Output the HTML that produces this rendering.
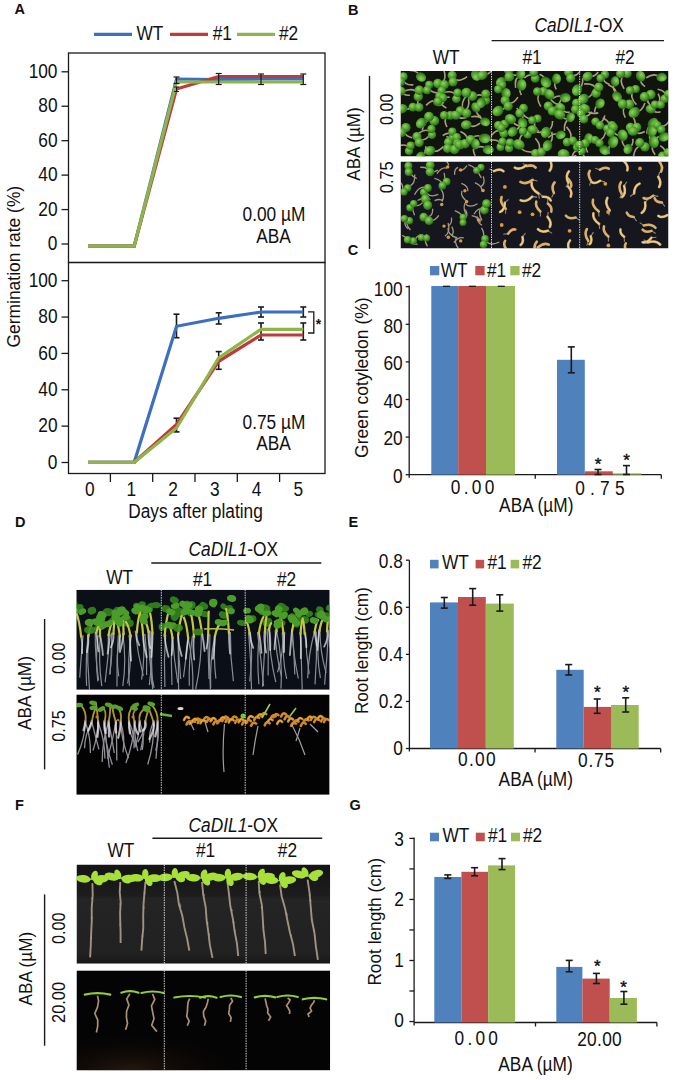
<!DOCTYPE html>
<html><head><meta charset="utf-8"><style>
html,body{margin:0;padding:0;background:#fff;}
body{width:675px;height:1080px;overflow:hidden;position:relative;}
svg{position:absolute;left:0;top:0;}
text{font-family:"Liberation Sans",sans-serif;fill:#111;}
</style></head><body>
<svg width="675" height="1080" viewBox="0 0 675 1080">
<text x="14.60" y="14.30" font-size="14.5" text-anchor="start" font-weight="bold" >A</text>
<line x1="94.00" y1="34.30" x2="132.00" y2="34.30" stroke="#3d6fbf" stroke-width="3.2" />
<text x="0" y="0" transform="translate(136.50,39.80) scale(0.8929,1)" font-size="19.38" text-anchor="start" font-weight="normal" >WT</text>
<line x1="170.00" y1="34.30" x2="208.00" y2="34.30" stroke="#c0393b" stroke-width="3.2" />
<text x="0" y="0" transform="translate(212.70,39.80) scale(0.8929,1)" font-size="19.38" text-anchor="start" font-weight="normal" >#1</text>
<line x1="237.00" y1="34.30" x2="275.00" y2="34.30" stroke="#8db64a" stroke-width="3.2" />
<text x="0" y="0" transform="translate(278.90,39.80) scale(0.8929,1)" font-size="19.38" text-anchor="start" font-weight="normal" >#2</text>
<rect x="68.5" y="53" width="256.5" height="209.5" fill="none" stroke="#1a1a1a" stroke-width="1.3"/>
<rect x="68.5" y="262.5" width="256.5" height="211" fill="none" stroke="#1a1a1a" stroke-width="1.3"/>
<line x1="61.50" y1="71.80" x2="68.50" y2="71.80" stroke="#1a1a1a" stroke-width="1.3" />
<text x="0" y="0" transform="translate(57.50,77.90) scale(0.8929,1)" font-size="19.38" text-anchor="end" font-weight="normal" >100</text>
<line x1="61.50" y1="106.24" x2="68.50" y2="106.24" stroke="#1a1a1a" stroke-width="1.3" />
<text x="0" y="0" transform="translate(57.50,112.34) scale(0.8929,1)" font-size="19.38" text-anchor="end" font-weight="normal" >80</text>
<line x1="61.50" y1="140.68" x2="68.50" y2="140.68" stroke="#1a1a1a" stroke-width="1.3" />
<text x="0" y="0" transform="translate(57.50,146.78) scale(0.8929,1)" font-size="19.38" text-anchor="end" font-weight="normal" >60</text>
<line x1="61.50" y1="175.12" x2="68.50" y2="175.12" stroke="#1a1a1a" stroke-width="1.3" />
<text x="0" y="0" transform="translate(57.50,181.22) scale(0.8929,1)" font-size="19.38" text-anchor="end" font-weight="normal" >40</text>
<line x1="61.50" y1="209.56" x2="68.50" y2="209.56" stroke="#1a1a1a" stroke-width="1.3" />
<text x="0" y="0" transform="translate(57.50,215.66) scale(0.8929,1)" font-size="19.38" text-anchor="end" font-weight="normal" >20</text>
<line x1="61.50" y1="244.00" x2="68.50" y2="244.00" stroke="#1a1a1a" stroke-width="1.3" />
<text x="0" y="0" transform="translate(57.50,250.10) scale(0.8929,1)" font-size="19.38" text-anchor="end" font-weight="normal" >0</text>
<line x1="61.50" y1="280.70" x2="68.50" y2="280.70" stroke="#1a1a1a" stroke-width="1.3" />
<text x="0" y="0" transform="translate(57.50,286.80) scale(0.8929,1)" font-size="19.38" text-anchor="end" font-weight="normal" >100</text>
<line x1="61.50" y1="317.06" x2="68.50" y2="317.06" stroke="#1a1a1a" stroke-width="1.3" />
<text x="0" y="0" transform="translate(57.50,323.16) scale(0.8929,1)" font-size="19.38" text-anchor="end" font-weight="normal" >80</text>
<line x1="61.50" y1="353.42" x2="68.50" y2="353.42" stroke="#1a1a1a" stroke-width="1.3" />
<text x="0" y="0" transform="translate(57.50,359.52) scale(0.8929,1)" font-size="19.38" text-anchor="end" font-weight="normal" >60</text>
<line x1="61.50" y1="389.78" x2="68.50" y2="389.78" stroke="#1a1a1a" stroke-width="1.3" />
<text x="0" y="0" transform="translate(57.50,395.88) scale(0.8929,1)" font-size="19.38" text-anchor="end" font-weight="normal" >40</text>
<line x1="61.50" y1="426.14" x2="68.50" y2="426.14" stroke="#1a1a1a" stroke-width="1.3" />
<text x="0" y="0" transform="translate(57.50,432.24) scale(0.8929,1)" font-size="19.38" text-anchor="end" font-weight="normal" >20</text>
<line x1="61.50" y1="462.50" x2="68.50" y2="462.50" stroke="#1a1a1a" stroke-width="1.3" />
<text x="0" y="0" transform="translate(57.50,468.60) scale(0.8929,1)" font-size="19.38" text-anchor="end" font-weight="normal" >0</text>
<line x1="110.40" y1="473.50" x2="110.40" y2="482.00" stroke="#1a1a1a" stroke-width="1.3" />
<line x1="152.70" y1="473.50" x2="152.70" y2="482.00" stroke="#1a1a1a" stroke-width="1.3" />
<line x1="195.00" y1="473.50" x2="195.00" y2="482.00" stroke="#1a1a1a" stroke-width="1.3" />
<line x1="237.30" y1="473.50" x2="237.30" y2="482.00" stroke="#1a1a1a" stroke-width="1.3" />
<line x1="279.60" y1="473.50" x2="279.60" y2="482.00" stroke="#1a1a1a" stroke-width="1.3" />
<text x="0" y="0" transform="translate(89.70,496.30) scale(0.8929,1)" font-size="19.38" text-anchor="middle" font-weight="normal" >0</text>
<text x="0" y="0" transform="translate(131.40,496.30) scale(0.8929,1)" font-size="19.38" text-anchor="middle" font-weight="normal" >1</text>
<text x="0" y="0" transform="translate(173.10,496.30) scale(0.8929,1)" font-size="19.38" text-anchor="middle" font-weight="normal" >2</text>
<text x="0" y="0" transform="translate(214.80,496.30) scale(0.8929,1)" font-size="19.38" text-anchor="middle" font-weight="normal" >3</text>
<text x="0" y="0" transform="translate(256.50,496.30) scale(0.8929,1)" font-size="19.38" text-anchor="middle" font-weight="normal" >4</text>
<text x="0" y="0" transform="translate(298.20,496.30) scale(0.8929,1)" font-size="19.38" text-anchor="middle" font-weight="normal" >5</text>
<text x="0" y="0" transform="translate(195.50,517.70) scale(0.8929,1)" font-size="19.38" text-anchor="middle" font-weight="normal" >Days after plating</text>
<text x="0" y="0" font-size="17.3" transform="translate(19.90,347.50) rotate(-90) scale(1.0077,1.0650)">Germination rate (%)</text>
<text x="0" y="0" transform="translate(274.00,221.40) scale(0.8929,1)" font-size="19.38" text-anchor="middle" font-weight="normal" >0.00 µM</text>
<text x="0" y="0" transform="translate(273.50,243.40) scale(0.8929,1)" font-size="19.38" text-anchor="middle" font-weight="normal" >ABA</text>
<text x="0" y="0" transform="translate(274.00,428.80) scale(0.8929,1)" font-size="19.38" text-anchor="middle" font-weight="normal" >0.75 µM</text>
<text x="0" y="0" transform="translate(273.50,450.20) scale(0.8929,1)" font-size="19.38" text-anchor="middle" font-weight="normal" >ABA</text>
<polyline points="88.0,246.2 134.2,246.2 176.5,79.0 218.7,79.5 261.0,79.0 303.3,79.0" fill="none" stroke="#3d6fbf" stroke-width="3.2" stroke-linejoin="miter"/>
<polyline points="88.0,246.2 134.2,246.2 176.5,89.0 218.7,76.5 261.0,76.5 303.3,76.5" fill="none" stroke="#c0393b" stroke-width="3.2" stroke-linejoin="miter"/>
<polyline points="88.0,246.2 134.2,246.2 176.5,82.0 218.7,82.0 261.0,82.0 303.3,82.0" fill="none" stroke="#8db64a" stroke-width="3.2" stroke-linejoin="miter"/>
<line x1="176.50" y1="77.00" x2="176.50" y2="83.50" stroke="#1a1a1a" stroke-width="1.2" />
<line x1="173.50" y1="77.00" x2="179.50" y2="77.00" stroke="#1a1a1a" stroke-width="1.2" />
<line x1="173.50" y1="83.50" x2="179.50" y2="83.50" stroke="#1a1a1a" stroke-width="1.2" />
<line x1="176.50" y1="87.00" x2="176.50" y2="91.50" stroke="#1a1a1a" stroke-width="1.0" />
<line x1="174.00" y1="87.00" x2="179.00" y2="87.00" stroke="#1a1a1a" stroke-width="1.0" />
<line x1="174.00" y1="91.50" x2="179.00" y2="91.50" stroke="#1a1a1a" stroke-width="1.0" />
<line x1="218.70" y1="73.50" x2="218.70" y2="84.50" stroke="#1a1a1a" stroke-width="1.2" />
<line x1="215.70" y1="73.50" x2="221.70" y2="73.50" stroke="#1a1a1a" stroke-width="1.2" />
<line x1="215.70" y1="84.50" x2="221.70" y2="84.50" stroke="#1a1a1a" stroke-width="1.2" />
<line x1="261.00" y1="74.00" x2="261.00" y2="84.50" stroke="#1a1a1a" stroke-width="1.2" />
<line x1="258.00" y1="74.00" x2="264.00" y2="74.00" stroke="#1a1a1a" stroke-width="1.2" />
<line x1="258.00" y1="84.50" x2="264.00" y2="84.50" stroke="#1a1a1a" stroke-width="1.2" />
<line x1="303.30" y1="74.00" x2="303.30" y2="84.50" stroke="#1a1a1a" stroke-width="1.2" />
<line x1="300.30" y1="74.00" x2="306.30" y2="74.00" stroke="#1a1a1a" stroke-width="1.2" />
<line x1="300.30" y1="84.50" x2="306.30" y2="84.50" stroke="#1a1a1a" stroke-width="1.2" />
<line x1="176.50" y1="314.20" x2="176.50" y2="337.70" stroke="#1a1a1a" stroke-width="1.6" />
<line x1="173.50" y1="314.20" x2="179.50" y2="314.20" stroke="#1a1a1a" stroke-width="1.6" />
<line x1="173.50" y1="337.70" x2="179.50" y2="337.70" stroke="#1a1a1a" stroke-width="1.6" />
<line x1="218.70" y1="312.80" x2="218.70" y2="324.00" stroke="#1a1a1a" stroke-width="1.6" />
<line x1="215.70" y1="312.80" x2="221.70" y2="312.80" stroke="#1a1a1a" stroke-width="1.6" />
<line x1="215.70" y1="324.00" x2="221.70" y2="324.00" stroke="#1a1a1a" stroke-width="1.6" />
<line x1="261.00" y1="307.00" x2="261.00" y2="317.00" stroke="#1a1a1a" stroke-width="1.6" />
<line x1="258.00" y1="307.00" x2="264.00" y2="307.00" stroke="#1a1a1a" stroke-width="1.6" />
<line x1="258.00" y1="317.00" x2="264.00" y2="317.00" stroke="#1a1a1a" stroke-width="1.6" />
<line x1="303.30" y1="307.00" x2="303.30" y2="317.00" stroke="#1a1a1a" stroke-width="1.6" />
<line x1="300.30" y1="307.00" x2="306.30" y2="307.00" stroke="#1a1a1a" stroke-width="1.6" />
<line x1="300.30" y1="317.00" x2="306.30" y2="317.00" stroke="#1a1a1a" stroke-width="1.6" />
<line x1="176.50" y1="418.20" x2="176.50" y2="431.90" stroke="#1a1a1a" stroke-width="1.6" />
<line x1="173.50" y1="418.20" x2="179.50" y2="418.20" stroke="#1a1a1a" stroke-width="1.6" />
<line x1="173.50" y1="431.90" x2="179.50" y2="431.90" stroke="#1a1a1a" stroke-width="1.6" />
<line x1="218.70" y1="351.60" x2="218.70" y2="369.30" stroke="#1a1a1a" stroke-width="1.6" />
<line x1="215.70" y1="351.60" x2="221.70" y2="351.60" stroke="#1a1a1a" stroke-width="1.6" />
<line x1="215.70" y1="369.30" x2="221.70" y2="369.30" stroke="#1a1a1a" stroke-width="1.6" />
<line x1="261.00" y1="323.00" x2="261.00" y2="340.00" stroke="#1a1a1a" stroke-width="1.6" />
<line x1="258.00" y1="323.00" x2="264.00" y2="323.00" stroke="#1a1a1a" stroke-width="1.6" />
<line x1="258.00" y1="340.00" x2="264.00" y2="340.00" stroke="#1a1a1a" stroke-width="1.6" />
<line x1="303.30" y1="323.00" x2="303.30" y2="340.00" stroke="#1a1a1a" stroke-width="1.6" />
<line x1="300.30" y1="323.00" x2="306.30" y2="323.00" stroke="#1a1a1a" stroke-width="1.6" />
<line x1="300.30" y1="340.00" x2="306.30" y2="340.00" stroke="#1a1a1a" stroke-width="1.6" />
<polyline points="88.0,462.3 134.2,462.3 176.5,326.3 218.7,318.3 261.0,312.0 303.3,312.0" fill="none" stroke="#3d6fbf" stroke-width="3.2" stroke-linejoin="miter"/>
<polyline points="88.0,462.3 134.2,462.3 176.5,424.4 218.7,361.3 261.0,335.0 303.3,335.0" fill="none" stroke="#c0393b" stroke-width="3.2" stroke-linejoin="miter"/>
<polyline points="88.0,462.3 134.2,462.3 176.5,428.0 218.7,357.8 261.0,329.3 303.3,329.3" fill="none" stroke="#8db64a" stroke-width="3.2" stroke-linejoin="miter"/>
<polyline points="308,311.8 313.8,311.8 313.8,333 308,333" fill="none" stroke="#1a1a1a" stroke-width="1.3"/>
<text x="318.60" y="328.50" font-size="14" text-anchor="middle" font-weight="bold" >*</text>
<text x="347.80" y="255.30" font-size="14.5" text-anchor="start" font-weight="bold" >C</text>
<line x1="409.20" y1="285.60" x2="409.20" y2="477.70" stroke="#1a1a1a" stroke-width="1.3" />
<line x1="409.20" y1="474.70" x2="661.30" y2="474.70" stroke="#1a1a1a" stroke-width="1.3" />
<line x1="405.70" y1="286.70" x2="409.20" y2="286.70" stroke="#1a1a1a" stroke-width="1.3" />
<text x="0" y="0" transform="translate(402.70,295.50) scale(0.8929,1)" font-size="19.38" text-anchor="end" font-weight="normal" >100</text>
<line x1="405.70" y1="324.30" x2="409.20" y2="324.30" stroke="#1a1a1a" stroke-width="1.3" />
<text x="0" y="0" transform="translate(402.70,332.90) scale(0.8929,1)" font-size="19.38" text-anchor="end" font-weight="normal" >80</text>
<line x1="405.70" y1="361.90" x2="409.20" y2="361.90" stroke="#1a1a1a" stroke-width="1.3" />
<text x="0" y="0" transform="translate(402.70,370.30) scale(0.8929,1)" font-size="19.38" text-anchor="end" font-weight="normal" >60</text>
<line x1="405.70" y1="399.50" x2="409.20" y2="399.50" stroke="#1a1a1a" stroke-width="1.3" />
<text x="0" y="0" transform="translate(402.70,407.70) scale(0.8929,1)" font-size="19.38" text-anchor="end" font-weight="normal" >40</text>
<line x1="405.70" y1="437.10" x2="409.20" y2="437.10" stroke="#1a1a1a" stroke-width="1.3" />
<text x="0" y="0" transform="translate(402.70,445.10) scale(0.8929,1)" font-size="19.38" text-anchor="end" font-weight="normal" >20</text>
<line x1="405.70" y1="474.70" x2="409.20" y2="474.70" stroke="#1a1a1a" stroke-width="1.3" />
<text x="0" y="0" transform="translate(402.70,482.50) scale(0.8929,1)" font-size="19.38" text-anchor="end" font-weight="normal" >0</text>
<line x1="535.25" y1="474.70" x2="535.25" y2="478.70" stroke="#1a1a1a" stroke-width="1.3" />
<line x1="661.30" y1="474.70" x2="661.30" y2="478.70" stroke="#1a1a1a" stroke-width="1.3" />
<rect x="431.30" y="286.00" width="26.90" height="188.70" fill="#4F81BD" />
<rect x="458.20" y="286.00" width="27.80" height="188.70" fill="#C0504D" />
<rect x="486.00" y="286.00" width="29.00" height="188.70" fill="#9BBB59" />
<rect x="557.00" y="359.80" width="27.80" height="114.90" fill="#4F81BD" />
<rect x="584.80" y="471.30" width="28.00" height="3.40" fill="#C0504D" />
<rect x="612.80" y="473.30" width="28.50" height="1.40" fill="#9BBB59" />
<line x1="443.00" y1="286.30" x2="450.00" y2="286.30" stroke="#1a1a1a" stroke-width="1.3" />
<line x1="468.90" y1="286.30" x2="475.90" y2="286.30" stroke="#1a1a1a" stroke-width="1.3" />
<line x1="497.80" y1="286.30" x2="504.80" y2="286.30" stroke="#1a1a1a" stroke-width="1.3" />
<line x1="571.30" y1="346.90" x2="571.30" y2="372.80" stroke="#1a1a1a" stroke-width="1.6" />
<line x1="567.80" y1="346.90" x2="574.80" y2="346.90" stroke="#1a1a1a" stroke-width="1.6" />
<line x1="567.80" y1="372.80" x2="574.80" y2="372.80" stroke="#1a1a1a" stroke-width="1.6" />
<line x1="598.00" y1="469.50" x2="598.00" y2="474.50" stroke="#1a1a1a" stroke-width="1.6" />
<line x1="594.50" y1="469.50" x2="601.50" y2="469.50" stroke="#1a1a1a" stroke-width="1.6" />
<line x1="594.50" y1="474.50" x2="601.50" y2="474.50" stroke="#1a1a1a" stroke-width="1.6" />
<line x1="626.50" y1="465.60" x2="626.50" y2="474.50" stroke="#1a1a1a" stroke-width="1.6" />
<line x1="623.00" y1="465.60" x2="630.00" y2="465.60" stroke="#1a1a1a" stroke-width="1.6" />
<line x1="623.00" y1="474.50" x2="630.00" y2="474.50" stroke="#1a1a1a" stroke-width="1.6" />
<text x="598.00" y="469.50" font-size="17" text-anchor="middle" font-weight="normal" stroke="#111" stroke-width="0.4">*</text>
<text x="626.50" y="465.50" font-size="17" text-anchor="middle" font-weight="normal" stroke="#111" stroke-width="0.4">*</text>
<rect x="430.00" y="266.00" width="9.30" height="9.30" fill="#4F81BD" />
<text x="0" y="0" transform="translate(440.70,276.50) scale(0.8929,1)" font-size="19.38" text-anchor="start" font-weight="normal" >WT</text>
<rect x="475.30" y="266.00" width="9.30" height="9.30" fill="#C0504D" />
<text x="0" y="0" transform="translate(487.00,276.50) scale(0.8929,1)" font-size="19.38" text-anchor="start" font-weight="normal" >#1</text>
<rect x="510.30" y="266.00" width="9.30" height="9.30" fill="#9BBB59" />
<text x="0" y="0" transform="translate(522.00,276.50) scale(0.8929,1)" font-size="19.38" text-anchor="start" font-weight="normal" >#2</text>
<text x="0" y="0" transform="translate(474.20,493.80) scale(0.8929,1)" font-size="19.38" text-anchor="middle" font-weight="normal" letter-spacing="3.70">0.00</text>
<text x="0" y="0" transform="translate(602.50,495.00) scale(0.8929,1)" font-size="19.38" text-anchor="middle" font-weight="normal" letter-spacing="5.82">0.75</text>
<text x="0" y="0" transform="translate(536.30,512.40) scale(0.8929,1)" font-size="19.38" text-anchor="middle" font-weight="normal" >ABA (µM)</text>
<text x="0" y="0" font-size="17.3" transform="translate(367.80,458.00) rotate(-90) scale(1.0135,1.0650)">Green cotyledon (%)</text>
<text x="348.60" y="526.60" font-size="14.5" text-anchor="start" font-weight="bold" >E</text>
<line x1="409.40" y1="560.20" x2="409.40" y2="751.50" stroke="#1a1a1a" stroke-width="1.3" />
<line x1="409.40" y1="748.50" x2="660.70" y2="748.50" stroke="#1a1a1a" stroke-width="1.3" />
<line x1="405.90" y1="560.20" x2="409.40" y2="560.20" stroke="#1a1a1a" stroke-width="1.3" />
<text x="0" y="0" transform="translate(402.90,568.00) scale(0.8929,1)" font-size="19.38" text-anchor="end" font-weight="normal" >0.8</text>
<line x1="405.90" y1="607.28" x2="409.40" y2="607.28" stroke="#1a1a1a" stroke-width="1.3" />
<text x="0" y="0" transform="translate(402.90,614.67) scale(0.8929,1)" font-size="19.38" text-anchor="end" font-weight="normal" >0.6</text>
<line x1="405.90" y1="654.36" x2="409.40" y2="654.36" stroke="#1a1a1a" stroke-width="1.3" />
<text x="0" y="0" transform="translate(402.90,661.35) scale(0.8929,1)" font-size="19.38" text-anchor="end" font-weight="normal" >0.4</text>
<line x1="405.90" y1="701.44" x2="409.40" y2="701.44" stroke="#1a1a1a" stroke-width="1.3" />
<text x="0" y="0" transform="translate(402.90,708.02) scale(0.8929,1)" font-size="19.38" text-anchor="end" font-weight="normal" >0.2</text>
<line x1="405.90" y1="748.52" x2="409.40" y2="748.52" stroke="#1a1a1a" stroke-width="1.3" />
<text x="0" y="0" transform="translate(402.90,754.70) scale(0.8929,1)" font-size="19.38" text-anchor="end" font-weight="normal" >0</text>
<line x1="535.05" y1="748.50" x2="535.05" y2="752.50" stroke="#1a1a1a" stroke-width="1.3" />
<line x1="660.70" y1="748.50" x2="660.70" y2="752.50" stroke="#1a1a1a" stroke-width="1.3" />
<rect x="430.00" y="602.40" width="28.00" height="146.10" fill="#4F81BD" />
<rect x="458.00" y="597.00" width="27.80" height="151.50" fill="#C0504D" />
<rect x="485.80" y="603.60" width="28.00" height="144.90" fill="#9BBB59" />
<rect x="556.30" y="669.80" width="27.40" height="78.70" fill="#4F81BD" />
<rect x="583.70" y="706.90" width="27.30" height="41.60" fill="#C0504D" />
<rect x="611.00" y="705.00" width="27.70" height="43.50" fill="#9BBB59" />
<line x1="444.30" y1="597.50" x2="444.30" y2="608.10" stroke="#1a1a1a" stroke-width="1.6" />
<line x1="440.80" y1="597.50" x2="447.80" y2="597.50" stroke="#1a1a1a" stroke-width="1.6" />
<line x1="440.80" y1="608.10" x2="447.80" y2="608.10" stroke="#1a1a1a" stroke-width="1.6" />
<line x1="472.70" y1="588.60" x2="472.70" y2="605.20" stroke="#1a1a1a" stroke-width="1.6" />
<line x1="469.20" y1="588.60" x2="476.20" y2="588.60" stroke="#1a1a1a" stroke-width="1.6" />
<line x1="469.20" y1="605.20" x2="476.20" y2="605.20" stroke="#1a1a1a" stroke-width="1.6" />
<line x1="499.80" y1="594.80" x2="499.80" y2="611.10" stroke="#1a1a1a" stroke-width="1.6" />
<line x1="496.30" y1="594.80" x2="503.30" y2="594.80" stroke="#1a1a1a" stroke-width="1.6" />
<line x1="496.30" y1="611.10" x2="503.30" y2="611.10" stroke="#1a1a1a" stroke-width="1.6" />
<line x1="568.70" y1="664.60" x2="568.70" y2="675.00" stroke="#1a1a1a" stroke-width="1.6" />
<line x1="565.20" y1="664.60" x2="572.20" y2="664.60" stroke="#1a1a1a" stroke-width="1.6" />
<line x1="565.20" y1="675.00" x2="572.20" y2="675.00" stroke="#1a1a1a" stroke-width="1.6" />
<line x1="597.20" y1="699.00" x2="597.20" y2="713.30" stroke="#1a1a1a" stroke-width="1.6" />
<line x1="593.70" y1="699.00" x2="600.70" y2="699.00" stroke="#1a1a1a" stroke-width="1.6" />
<line x1="593.70" y1="713.30" x2="600.70" y2="713.30" stroke="#1a1a1a" stroke-width="1.6" />
<line x1="625.70" y1="697.80" x2="625.70" y2="712.00" stroke="#1a1a1a" stroke-width="1.6" />
<line x1="622.20" y1="697.80" x2="629.20" y2="697.80" stroke="#1a1a1a" stroke-width="1.6" />
<line x1="622.20" y1="712.00" x2="629.20" y2="712.00" stroke="#1a1a1a" stroke-width="1.6" />
<text x="597.20" y="697.70" font-size="17" text-anchor="middle" font-weight="normal" stroke="#111" stroke-width="0.4">*</text>
<text x="625.70" y="697.70" font-size="17" text-anchor="middle" font-weight="normal" stroke="#111" stroke-width="0.4">*</text>
<rect x="430.00" y="559.80" width="8.60" height="8.60" fill="#4F81BD" />
<text x="0" y="0" transform="translate(441.90,568.60) scale(0.8929,1)" font-size="19.38" text-anchor="start" font-weight="normal" >WT</text>
<rect x="475.60" y="559.80" width="8.60" height="8.60" fill="#C0504D" />
<text x="0" y="0" transform="translate(487.50,568.60) scale(0.8929,1)" font-size="19.38" text-anchor="start" font-weight="normal" >#1</text>
<rect x="510.60" y="559.80" width="8.60" height="8.60" fill="#9BBB59" />
<text x="0" y="0" transform="translate(522.50,568.60) scale(0.8929,1)" font-size="19.38" text-anchor="start" font-weight="normal" >#2</text>
<text x="0" y="0" transform="translate(477.50,766.00) scale(0.8929,1)" font-size="19.38" text-anchor="middle" font-weight="normal" letter-spacing="1.46">0.00</text>
<text x="0" y="0" transform="translate(596.50,767.30) scale(0.8929,1)" font-size="19.38" text-anchor="middle" font-weight="normal" letter-spacing="0.90">0.75</text>
<text x="0" y="0" transform="translate(535.80,785.50) scale(0.8929,1)" font-size="19.38" text-anchor="middle" font-weight="normal" >ABA (µM)</text>
<text x="0" y="0" font-size="17.3" transform="translate(368.10,714.10) rotate(-90) scale(0.9931,1.0650)">Root length (cm)</text>
<text x="349.60" y="810.10" font-size="14.5" text-anchor="start" font-weight="bold" >G</text>
<line x1="414.10" y1="837.40" x2="414.10" y2="1025.50" stroke="#1a1a1a" stroke-width="1.3" />
<line x1="414.10" y1="1022.50" x2="656.90" y2="1022.50" stroke="#1a1a1a" stroke-width="1.3" />
<line x1="409.40" y1="838.40" x2="414.10" y2="838.40" stroke="#1a1a1a" stroke-width="1.3" />
<text x="0" y="0" transform="translate(403.90,846.00) scale(0.8929,1)" font-size="19.38" text-anchor="end" font-weight="normal" >3</text>
<line x1="409.40" y1="899.45" x2="414.10" y2="899.45" stroke="#1a1a1a" stroke-width="1.3" />
<text x="0" y="0" transform="translate(403.90,906.40) scale(0.8929,1)" font-size="19.38" text-anchor="end" font-weight="normal" >2</text>
<line x1="409.40" y1="960.50" x2="414.10" y2="960.50" stroke="#1a1a1a" stroke-width="1.3" />
<text x="0" y="0" transform="translate(403.90,966.80) scale(0.8929,1)" font-size="19.38" text-anchor="end" font-weight="normal" >1</text>
<line x1="409.40" y1="1021.55" x2="414.10" y2="1021.55" stroke="#1a1a1a" stroke-width="1.3" />
<text x="0" y="0" transform="translate(403.90,1027.20) scale(0.8929,1)" font-size="19.38" text-anchor="end" font-weight="normal" >0</text>
<line x1="409.40" y1="868.92" x2="414.10" y2="868.92" stroke="#1a1a1a" stroke-width="1.3" />
<line x1="409.40" y1="929.96" x2="414.10" y2="929.96" stroke="#1a1a1a" stroke-width="1.3" />
<line x1="409.40" y1="991.00" x2="414.10" y2="991.00" stroke="#1a1a1a" stroke-width="1.3" />
<line x1="535.50" y1="1022.50" x2="535.50" y2="1026.50" stroke="#1a1a1a" stroke-width="1.3" />
<line x1="656.90" y1="1022.50" x2="656.90" y2="1026.50" stroke="#1a1a1a" stroke-width="1.3" />
<rect x="434.30" y="877.00" width="27.10" height="145.50" fill="#4F81BD" />
<rect x="461.40" y="871.80" width="26.70" height="150.70" fill="#C0504D" />
<rect x="488.10" y="865.40" width="27.00" height="157.10" fill="#9BBB59" />
<rect x="556.30" y="966.90" width="26.10" height="55.60" fill="#4F81BD" />
<rect x="582.40" y="978.60" width="27.30" height="43.90" fill="#C0504D" />
<rect x="609.70" y="998.00" width="27.20" height="24.50" fill="#9BBB59" />
<line x1="447.80" y1="874.90" x2="447.80" y2="878.40" stroke="#1a1a1a" stroke-width="1.6" />
<line x1="444.30" y1="874.90" x2="451.30" y2="874.90" stroke="#1a1a1a" stroke-width="1.6" />
<line x1="444.30" y1="878.40" x2="451.30" y2="878.40" stroke="#1a1a1a" stroke-width="1.6" />
<line x1="474.60" y1="867.70" x2="474.60" y2="875.80" stroke="#1a1a1a" stroke-width="1.6" />
<line x1="471.10" y1="867.70" x2="478.10" y2="867.70" stroke="#1a1a1a" stroke-width="1.6" />
<line x1="471.10" y1="875.80" x2="478.10" y2="875.80" stroke="#1a1a1a" stroke-width="1.6" />
<line x1="502.00" y1="858.60" x2="502.00" y2="869.60" stroke="#1a1a1a" stroke-width="1.6" />
<line x1="498.50" y1="858.60" x2="505.50" y2="858.60" stroke="#1a1a1a" stroke-width="1.6" />
<line x1="498.50" y1="869.60" x2="505.50" y2="869.60" stroke="#1a1a1a" stroke-width="1.6" />
<line x1="569.20" y1="960.40" x2="569.20" y2="971.80" stroke="#1a1a1a" stroke-width="1.6" />
<line x1="565.70" y1="960.40" x2="572.70" y2="960.40" stroke="#1a1a1a" stroke-width="1.6" />
<line x1="565.70" y1="971.80" x2="572.70" y2="971.80" stroke="#1a1a1a" stroke-width="1.6" />
<line x1="596.40" y1="973.40" x2="596.40" y2="983.50" stroke="#1a1a1a" stroke-width="1.6" />
<line x1="592.90" y1="973.40" x2="599.90" y2="973.40" stroke="#1a1a1a" stroke-width="1.6" />
<line x1="592.90" y1="983.50" x2="599.90" y2="983.50" stroke="#1a1a1a" stroke-width="1.6" />
<line x1="623.90" y1="991.50" x2="623.90" y2="1004.20" stroke="#1a1a1a" stroke-width="1.6" />
<line x1="620.40" y1="991.50" x2="627.40" y2="991.50" stroke="#1a1a1a" stroke-width="1.6" />
<line x1="620.40" y1="1004.20" x2="627.40" y2="1004.20" stroke="#1a1a1a" stroke-width="1.6" />
<text x="597.20" y="972.00" font-size="17" text-anchor="middle" font-weight="normal" stroke="#111" stroke-width="0.4">*</text>
<text x="623.50" y="993.00" font-size="17" text-anchor="middle" font-weight="normal" stroke="#111" stroke-width="0.4">*</text>
<rect x="430.00" y="832.70" width="9.00" height="8.60" fill="#4F81BD" />
<text x="0" y="0" transform="translate(442.40,841.70) scale(0.8929,1)" font-size="19.38" text-anchor="start" font-weight="normal" >WT</text>
<rect x="475.80" y="832.70" width="9.00" height="8.60" fill="#C0504D" />
<text x="0" y="0" transform="translate(488.00,841.70) scale(0.8929,1)" font-size="19.38" text-anchor="start" font-weight="normal" >#1</text>
<rect x="511.00" y="832.70" width="9.00" height="8.60" fill="#9BBB59" />
<text x="0" y="0" transform="translate(523.00,841.70) scale(0.8929,1)" font-size="19.38" text-anchor="start" font-weight="normal" >#2</text>
<text x="0" y="0" transform="translate(477.80,1044.60) scale(0.8929,1)" font-size="19.38" text-anchor="middle" font-weight="normal" letter-spacing="3.58">0.00</text>
<text x="0" y="0" transform="translate(599.60,1045.70) scale(0.8929,1)" font-size="19.38" text-anchor="middle" font-weight="normal" letter-spacing="0.34">20.00</text>
<text x="0" y="0" transform="translate(535.50,1070.50) scale(0.8929,1)" font-size="19.38" text-anchor="middle" font-weight="normal" >ABA (µM)</text>
<text x="0" y="0" font-size="17.3" transform="translate(381.00,985.60) rotate(-90) scale(0.9978,1.0650)">Root length (cm)</text>
<text x="347.90" y="14.70" font-size="14.5" text-anchor="start" font-weight="bold" >B</text>
<text x="0" y="0" transform="translate(579.20,31.60) scale(0.8929,1)" font-size="19.38" text-anchor="middle"><tspan font-style="italic">CaDIL1</tspan>-OX</text>
<line x1="491.60" y1="40.60" x2="664.00" y2="40.60" stroke="#1a1a1a" stroke-width="1.4" />
<text x="0" y="0" transform="translate(446.20,64.30) scale(0.8929,1)" font-size="19.38" text-anchor="middle" font-weight="normal" >WT</text>
<text x="0" y="0" transform="translate(532.00,64.10) scale(0.8929,1)" font-size="19.38" text-anchor="middle" font-weight="normal" >#1</text>
<text x="0" y="0" transform="translate(625.00,64.10) scale(0.8929,1)" font-size="19.38" text-anchor="middle" font-weight="normal" >#2</text>
<line x1="369.50" y1="75.80" x2="369.50" y2="248.90" stroke="#1a1a1a" stroke-width="1.4" />
<text x="0" y="0" font-size="17.3" transform="translate(359.70,180.70) rotate(-90) scale(0.9856,1.0650)">ABA (µM)</text>
<text x="0" y="0" font-size="17.3" transform="translate(392.90,124.90) rotate(-90) scale(0.9297,1.0650)">0.00</text>
<text x="0" y="0" font-size="17.3" transform="translate(392.90,193.20) rotate(-90) scale(0.9475,1.0650)">0.75</text>
<text x="15.10" y="526.90" font-size="14.5" text-anchor="start" font-weight="bold" >D</text>
<text x="0" y="0" transform="translate(233.30,556.10) scale(0.8929,1)" font-size="19.38" text-anchor="middle"><tspan font-style="italic">CaDIL1</tspan>-OX</text>
<line x1="151.30" y1="563.00" x2="321.30" y2="563.00" stroke="#1a1a1a" stroke-width="1.4" />
<text x="0" y="0" transform="translate(119.60,583.50) scale(0.8929,1)" font-size="19.38" text-anchor="middle" font-weight="normal" >WT</text>
<text x="0" y="0" transform="translate(202.50,585.80) scale(0.8929,1)" font-size="19.38" text-anchor="middle" font-weight="normal" >#1</text>
<text x="0" y="0" transform="translate(286.50,585.80) scale(0.8929,1)" font-size="19.38" text-anchor="middle" font-weight="normal" >#2</text>
<line x1="44.60" y1="619.00" x2="44.60" y2="769.40" stroke="#1a1a1a" stroke-width="1.4" />
<text x="0" y="0" font-size="17.3" transform="translate(31.00,729.90) rotate(-90) scale(0.9923,1.0650)">ABA (µM)</text>
<text x="0" y="0" font-size="17.3" transform="translate(64.90,674.00) rotate(-90) scale(0.9327,1.0650)">0.00</text>
<text x="0" y="0" font-size="17.3" transform="translate(64.90,741.70) rotate(-90) scale(0.9357,1.0650)">0.75</text>
<text x="15.10" y="810.20" font-size="14.5" text-anchor="start" font-weight="bold" >F</text>
<text x="0" y="0" transform="translate(233.30,832.00) scale(0.8929,1)" font-size="19.38" text-anchor="middle"><tspan font-style="italic">CaDIL1</tspan>-OX</text>
<line x1="152.40" y1="838.20" x2="322.20" y2="838.20" stroke="#1a1a1a" stroke-width="1.4" />
<text x="0" y="0" transform="translate(120.90,857.30) scale(0.8929,1)" font-size="19.38" text-anchor="middle" font-weight="normal" >WT</text>
<text x="0" y="0" transform="translate(205.50,857.00) scale(0.8929,1)" font-size="19.38" text-anchor="middle" font-weight="normal" >#1</text>
<text x="0" y="0" transform="translate(287.40,857.30) scale(0.8929,1)" font-size="19.38" text-anchor="middle" font-weight="normal" >#2</text>
<line x1="44.60" y1="894.40" x2="44.60" y2="1045.70" stroke="#1a1a1a" stroke-width="1.4" />
<text x="0" y="0" font-size="17.3" transform="translate(31.80,1005.40) rotate(-90) scale(0.9883,1.0650)">ABA (µM)</text>
<text x="0" y="0" font-size="17.3" transform="translate(65.40,943.90) rotate(-90) scale(0.9357,1.0650)">0.00</text>
<text x="0" y="0" font-size="17.3" transform="translate(65.40,1023.00) rotate(-90) scale(0.9495,1.0650)">20.00</text>
<defs>
<radialGradient id="cot" cx="40%" cy="35%" r="65%"><stop offset="0" stop-color="#96d060"/><stop offset="0.5" stop-color="#55a830"/><stop offset="1" stop-color="#2a6816"/></radialGradient>
<radialGradient id="cot2" cx="40%" cy="35%" r="65%"><stop offset="0" stop-color="#8fd24f"/><stop offset="0.6" stop-color="#4b9f27"/><stop offset="1" stop-color="#2a6514"/></radialGradient>
<linearGradient id="ftop" x1="0" y1="0" x2="0" y2="1"><stop offset="0" stop-color="#141414"/><stop offset="0.3" stop-color="#1c1c1c"/><stop offset="0.36" stop-color="#242424"/><stop offset="0.9" stop-color="#212121"/><stop offset="1" stop-color="#171717"/></linearGradient>
<radialGradient id="fbrown" cx="30%" cy="100%" r="60%"><stop offset="0" stop-color="#2a1a10" stop-opacity="0.9"/><stop offset="1" stop-color="#0a0605" stop-opacity="0"/></radialGradient>
<linearGradient id="fbot" x1="0" y1="0" x2="0" y2="1"><stop offset="0" stop-color="#060505"/><stop offset="0.55" stop-color="#070504"/><stop offset="1" stop-color="#1c120b"/></linearGradient>
<filter id="soft" x="-5%" y="-5%" width="110%" height="110%" color-interpolation-filters="sRGB"><feGaussianBlur stdDeviation="0.45"/></filter>
<clipPath id="cB1"><rect x="400.5" y="71" width="268" height="85.5"/></clipPath>
<clipPath id="cB2"><rect x="400.5" y="161.5" width="268" height="87"/></clipPath>
<clipPath id="cD1"><rect x="76.3" y="589.7" width="253.5" height="100.1"/></clipPath>
<clipPath id="cD2"><rect x="76.3" y="694.4" width="253.3" height="100.4"/></clipPath>
<clipPath id="cF1"><rect x="76.5" y="864.5" width="253.7" height="99.2"/></clipPath>
<clipPath id="cF2"><rect x="76.5" y="970.4" width="253.7" height="100"/></clipPath>
</defs>
<g clip-path="url(#cB1)" filter="url(#soft)">
<rect x="400.5" y="71" width="268" height="85.5" fill="#10130e"/>
<g fill="none" stroke="#c3b88f" stroke-width="1.6" opacity="0.85"><path d="M403.4 79.8Q404.6 85.3 413.4 84.8" /><path d="M402.2 91.6Q403.2 95.8 409.9 95.2" /><path d="M404.1 108.1Q408.9 111.2 415.0 104.4" /><path d="M404.8 131.1Q404.5 136.0 412.1 137.7" /><path d="M408.4 147.9Q406.9 144.0 400.4 145.4" /><path d="M419.2 76.0Q418.5 70.7 410.0 70.5" /><path d="M417.3 93.2Q414.1 87.4 404.3 91.1" /><path d="M416.0 105.7Q419.6 103.1 416.4 96.8" /><path d="M422.8 121.7Q427.7 122.3 429.8 114.7" /><path d="M419.5 139.0Q424.2 141.8 429.7 135.3" /><path d="M421.5 155.0Q426.3 153.9 425.8 146.3" /><path d="M429.5 88.0Q431.4 94.0 441.3 92.6" /><path d="M436.9 101.8Q432.1 98.7 426.1 105.4" /><path d="M430.7 119.9Q424.0 119.8 422.3 130.2" /><path d="M430.2 132.1Q426.2 127.9 418.7 133.2" /><path d="M431.6 150.1Q436.6 153.6 443.3 146.6" /><path d="M441.4 82.7Q447.2 79.6 443.8 69.7" /><path d="M441.9 93.9Q443.0 97.9 449.6 97.1" /><path d="M441.3 100.9Q440.2 105.1 446.4 107.9" /><path d="M447.2 116.9Q443.2 119.9 447.0 127.0" /><path d="M451.1 134.7Q448.2 131.7 442.7 135.6" /><path d="M449.4 145.5Q452.9 151.4 463.0 147.5" /><path d="M454.1 78.4Q458.8 83.0 467.1 76.7" /><path d="M455.5 95.5Q452.7 89.8 443.1 92.9" /><path d="M464.0 110.6Q470.2 108.6 468.5 98.5" /><path d="M457.5 115.5Q459.8 119.8 467.0 117.2" /><path d="M458.5 140.1Q463.1 145.1 472.1 139.1" /><path d="M455.8 146.0Q456.6 139.3 446.3 136.6" /><path d="M475.1 73.4Q477.3 67.0 467.9 62.0" /><path d="M468.7 95.7Q462.3 96.6 462.3 106.8" /><path d="M476.6 109.2Q475.0 113.2 480.9 116.9" /><path d="M468.3 124.6Q472.6 128.8 480.2 123.1" /><path d="M466.9 140.5Q468.4 135.1 460.4 131.5" /><path d="M475.4 146.1Q471.5 149.1 475.3 155.8" /><path d="M484.2 73.9Q488.9 75.6 492.7 68.5" /><path d="M484.2 97.1Q480.7 92.7 473.0 97.0" /><path d="M481.7 101.0Q485.9 99.4 484.5 92.4" /><path d="M483.2 121.1Q481.2 115.1 471.2 116.7" /><path d="M482.7 138.2Q479.4 133.6 471.3 137.7" /><path d="M486.2 149.4Q482.8 144.4 474.0 148.5" /><path d="M502.3 80.4Q509.0 81.2 512.0 70.8" /><path d="M501.2 88.2Q500.7 93.5 508.9 95.6" /><path d="M499.5 109.9Q503.8 111.0 506.6 104.5" /><path d="M501.7 126.2Q497.2 131.4 504.3 139.7" /><path d="M501.2 131.3Q496.2 128.8 491.1 135.9" /><path d="M500.0 143.9Q498.3 138.9 490.0 140.4" /><path d="M510.5 73.2Q514.9 77.8 523.2 72.0" /><path d="M505.8 95.6Q502.0 97.8 504.6 104.3" /><path d="M508.0 102.6Q513.2 104.8 517.9 97.1" /><path d="M512.3 120.0Q513.8 126.7 524.5 126.0" /><path d="M514.0 130.2Q519.3 130.4 521.0 122.0" /><path d="M508.1 145.1Q505.8 141.0 498.8 143.6" /><path d="M520.0 76.0Q514.0 78.0 515.7 87.8" /><path d="M521.5 86.9Q518.3 89.4 521.4 95.0" /><path d="M522.7 111.6Q522.8 118.0 532.9 119.6" /><path d="M521.9 121.0Q525.3 114.9 516.6 108.1" /><path d="M524.4 134.0Q520.2 134.3 519.6 140.8" /><path d="M520.5 145.5Q521.4 152.0 531.8 152.1" /><path d="M533.0 75.8Q529.4 73.1 524.3 78.0" /><path d="M540.4 92.9Q535.1 97.4 540.8 106.7" /><path d="M535.3 120.9Q532.3 125.5 538.7 131.4" /><path d="M534.6 129.9Q537.1 134.1 544.3 131.3" /><path d="M538.1 151.2Q542.3 146.0 535.3 138.2" /><path d="M544.7 80.7Q545.6 76.7 539.5 74.2" /><path d="M550.6 95.9Q549.4 101.4 557.7 104.5" /><path d="M551.5 107.6Q557.4 108.9 560.9 100.0" /><path d="M546.8 130.6Q552.4 129.9 552.6 120.9" /><path d="M548.1 143.7Q553.9 141.4 551.8 131.8" /><path d="M556.4 80.8Q553.1 83.4 556.3 89.3" /><path d="M563.2 97.8Q559.9 93.9 552.9 98.2" /><path d="M562.0 108.3Q562.8 112.6 569.8 112.4" /><path d="M561.5 115.3Q562.9 119.9 570.4 118.9" /><path d="M558.7 135.3Q554.5 131.9 548.2 137.7" /><path d="M565.6 154.3Q568.5 158.9 576.3 155.5" /><path d="M571.1 74.8Q575.0 77.3 579.8 71.7" /><path d="M578.0 88.2Q583.3 86.9 582.7 78.2" /><path d="M577.4 106.5Q579.4 110.0 585.3 107.7" /><path d="M569.8 119.1Q563.5 120.7 564.5 131.0" /><path d="M569.6 140.0Q573.7 134.7 566.5 126.9" /><path d="M578.4 150.4Q573.1 150.3 571.7 158.5" /><path d="M589.4 75.7Q593.6 77.9 598.2 71.9" /><path d="M584.8 97.6Q591.1 98.7 594.4 89.0" /><path d="M586.5 109.1Q588.7 114.9 598.3 112.9" /><path d="M583.9 115.7Q587.8 117.6 591.7 111.8" /><path d="M588.5 140.6Q583.6 144.0 587.7 152.5" /><path d="M582.7 145.5Q578.7 150.9 586.2 158.5" /><path d="M603.8 77.6Q602.8 82.0 609.6 84.6" /><path d="M596.1 89.6Q594.5 83.1 584.0 84.0" /><path d="M599.0 105.2Q594.8 105.7 594.6 112.3" /><path d="M598.8 122.4Q603.4 122.5 604.8 115.3" /><path d="M598.2 140.3Q604.8 140.0 605.9 129.5" /><path d="M602.7 149.1Q602.3 145.1 595.9 144.9" /><path d="M615.0 83.5Q611.7 86.2 615.1 92.2" /><path d="M615.9 94.9Q617.5 88.8 608.3 84.8" /><path d="M608.7 125.7Q609.9 120.9 602.7 117.9" /><path d="M613.4 130.7Q614.7 136.1 623.5 135.5" /><path d="M612.4 143.8Q607.4 145.6 609.0 154.0" /><path d="M623.8 75.1Q618.5 79.5 624.1 88.9" /><path d="M625.9 105.7Q621.0 109.2 625.3 117.7" /><path d="M623.3 137.2Q619.8 142.6 627.4 149.3" /><path d="M628.9 147.2Q633.4 146.2 632.9 138.7" /><path d="M641.4 78.1Q639.1 82.2 645.0 86.7" /><path d="M633.2 91.2Q628.9 96.6 636.4 104.6" /><path d="M635.7 111.2Q641.8 112.2 644.9 102.9" /><path d="M633.6 125.8Q636.7 123.2 633.4 117.7" /><path d="M635.1 131.4Q638.0 135.2 644.8 131.5" /><path d="M641.5 146.0Q635.0 146.0 633.5 156.2" /><path d="M648.2 97.2Q645.6 101.5 651.7 106.7" /><path d="M652.6 109.7Q654.3 113.4 660.6 111.7" /><path d="M652.0 125.4Q647.2 126.0 646.9 133.6" /><path d="M651.7 133.0Q648.2 135.0 650.4 141.0" /><path d="M654.0 144.0Q650.1 147.7 655.1 154.7" /><path d="M659.6 77.3Q655.2 72.2 646.1 77.9" /><path d="M665.4 95.5Q665.4 90.5 657.6 89.3" /><path d="M657.9 103.2Q661.7 100.3 658.1 93.7" /><path d="M660.4 126.3Q667.3 127.5 670.7 117.0" /><path d="M662.1 137.5Q658.2 135.0 653.3 140.6" /><path d="M664.7 153.3Q666.2 149.3 660.2 145.8" /></g>
<g fill="url(#cot)"><circle cx="403.4" cy="76.5" r="4.3"/><circle cx="400.7" cy="81.9" r="4.3"/><ellipse cx="400.4" cy="90.8" rx="5.5" ry="4.6" transform="rotate(25 400.4 90.8)"/><ellipse cx="402.2" cy="108.7" rx="5.4" ry="4.6" transform="rotate(341 402.2 108.7)"/><circle cx="405.9" cy="127.6" r="4.7"/><circle cx="401.5" cy="132.5" r="4.7"/><circle cx="409.0" cy="151.1" r="4.1"/><circle cx="410.7" cy="145.7" r="4.1"/><ellipse cx="421.0" cy="77.0" rx="5.3" ry="4.5" transform="rotate(211 421.0 77.0)"/><circle cx="418.3" cy="96.7" r="4.7"/><circle cx="419.3" cy="90.2" r="4.7"/><circle cx="412.9" cy="107.1" r="4.4"/><circle cx="419.1" cy="107.3" r="4.4"/><ellipse cx="421.3" cy="123.1" rx="5.8" ry="4.9" transform="rotate(315 421.3 123.1)"/><circle cx="417.0" cy="136.5" r="4.6"/><circle cx="419.2" cy="142.5" r="4.6"/><ellipse cx="420.7" cy="156.8" rx="5.4" ry="4.6" transform="rotate(296 420.7 156.8)"/><circle cx="429.2" cy="84.8" r="4.1"/><circle cx="427.1" cy="90.2" r="4.1"/><ellipse cx="438.8" cy="101.2" rx="6.0" ry="5.0" transform="rotate(162 438.8 101.2)"/><circle cx="434.3" cy="120.9" r="4.9"/><circle cx="429.0" cy="116.6" r="4.9"/><circle cx="432.0" cy="134.9" r="4.2"/><circle cx="431.4" cy="129.0" r="4.2"/><ellipse cx="429.7" cy="150.7" rx="5.6" ry="4.7" transform="rotate(343 429.7 150.7)"/><circle cx="437.8" cy="83.5" r="4.7"/><circle cx="444.3" cy="84.8" r="4.7"/><circle cx="441.6" cy="90.6" r="4.2"/><circle cx="439.4" cy="96.0" r="4.2"/><circle cx="442.9" cy="97.9" r="4.3"/><circle cx="438.0" cy="101.5" r="4.3"/><circle cx="450.2" cy="115.4" r="4.3"/><circle cx="444.2" cy="115.3" r="4.3"/><circle cx="452.9" cy="137.4" r="4.1"/><circle cx="452.3" cy="131.7" r="4.1"/><circle cx="448.4" cy="142.2" r="4.5"/><circle cx="447.5" cy="148.4" r="4.5"/><circle cx="452.2" cy="75.4" r="4.6"/><circle cx="453.0" cy="81.9" r="4.6"/><circle cx="456.4" cy="98.7" r="4.3"/><circle cx="457.6" cy="92.8" r="4.3"/><circle cx="460.5" cy="110.9" r="4.7"/><circle cx="466.6" cy="113.2" r="4.7"/><ellipse cx="455.5" cy="115.2" rx="5.3" ry="4.4" transform="rotate(10 455.5 115.2)"/><circle cx="456.7" cy="137.2" r="4.3"/><circle cx="457.2" cy="143.2" r="4.3"/><circle cx="454.6" cy="149.4" r="4.8"/><circle cx="459.3" cy="144.7" r="4.8"/><ellipse cx="476.2" cy="75.1" rx="5.9" ry="4.9" transform="rotate(238 476.2 75.1)"/><circle cx="472.4" cy="96.1" r="4.9"/><circle cx="466.4" cy="92.7" r="4.9"/><ellipse cx="475.7" cy="107.4" rx="5.2" ry="4.3" transform="rotate(61 475.7 107.4)"/><ellipse cx="466.3" cy="124.8" rx="5.4" ry="4.5" transform="rotate(353 466.3 124.8)"/><circle cx="465.1" cy="143.7" r="4.8"/><circle cx="470.6" cy="139.7" r="4.8"/><ellipse cx="475.4" cy="144.1" rx="5.3" ry="4.4" transform="rotate(91 475.4 144.1)"/><ellipse cx="482.5" cy="75.0" rx="5.5" ry="4.6" transform="rotate(328 482.5 75.0)"/><circle cx="485.6" cy="100.3" r="4.5"/><circle cx="485.7" cy="94.0" r="4.5"/><ellipse cx="481.1" cy="102.9" rx="5.5" ry="4.6" transform="rotate(288 481.1 102.9)"/><ellipse cx="485.1" cy="121.8" rx="5.1" ry="4.3" transform="rotate(200 485.1 121.8)"/><ellipse cx="484.7" cy="138.3" rx="5.9" ry="4.9" transform="rotate(183 484.7 138.3)"/><ellipse cx="488.2" cy="149.6" rx="5.5" ry="4.6" transform="rotate(184 488.2 149.6)"/><ellipse cx="500.8" cy="81.8" rx="5.3" ry="4.4" transform="rotate(316 500.8 81.8)"/><circle cx="502.1" cy="85.1" r="4.1"/><circle cx="498.2" cy="89.3" r="4.1"/><ellipse cx="497.9" cy="111.1" rx="5.8" ry="4.9" transform="rotate(323 497.9 111.1)"/><circle cx="504.4" cy="124.2" r="4.4"/><circle cx="498.4" cy="125.3" r="4.4"/><circle cx="503.8" cy="133.4" r="4.3"/><circle cx="501.3" cy="127.9" r="4.3"/><circle cx="500.5" cy="147.0" r="4.0"/><circle cx="502.4" cy="141.7" r="4.0"/><circle cx="508.7" cy="69.9" r="4.9"/><circle cx="509.3" cy="76.7" r="4.9"/><ellipse cx="506.0" cy="93.6" rx="5.5" ry="4.6" transform="rotate(97 506.0 93.6)"/><circle cx="505.1" cy="100.5" r="4.6"/><circle cx="508.2" cy="106.2" r="4.6"/><ellipse cx="510.5" cy="119.1" rx="5.7" ry="4.8" transform="rotate(26 510.5 119.1)"/><ellipse cx="512.7" cy="131.7" rx="5.4" ry="4.5" transform="rotate(311 512.7 131.7)"/><circle cx="509.1" cy="148.2" r="4.1"/><circle cx="510.0" cy="142.6" r="4.1"/><ellipse cx="520.7" cy="74.1" rx="5.3" ry="4.5" transform="rotate(110 520.7 74.1)"/><ellipse cx="521.5" cy="84.9" rx="5.8" ry="4.9" transform="rotate(90 521.5 84.9)"/><circle cx="523.5" cy="108.2" r="4.4"/><circle cx="519.7" cy="113.1" r="4.4"/><ellipse cx="522.7" cy="122.8" rx="5.4" ry="4.5" transform="rotate(248 522.7 122.8)"/><circle cx="527.6" cy="134.5" r="4.1"/><circle cx="522.9" cy="131.2" r="4.1"/><ellipse cx="518.8" cy="144.5" rx="6.0" ry="5.0" transform="rotate(30 518.8 144.5)"/><circle cx="535.2" cy="78.4" r="4.4"/><circle cx="533.7" cy="72.4" r="4.4"/><circle cx="543.3" cy="91.3" r="4.3"/><circle cx="537.3" cy="91.5" r="4.3"/><circle cx="537.6" cy="118.6" r="4.0"/><circle cx="532.2" cy="120.3" r="4.0"/><ellipse cx="532.6" cy="129.6" rx="5.3" ry="4.4" transform="rotate(8 532.6 129.6)"/><circle cx="535.5" cy="153.3" r="4.4"/><circle cx="541.4" cy="152.0" r="4.4"/><ellipse cx="545.9" cy="82.2" rx="5.9" ry="5.0" transform="rotate(232 545.9 82.2)"/><ellipse cx="549.3" cy="94.4" rx="5.6" ry="4.7" transform="rotate(50 549.3 94.4)"/><circle cx="548.3" cy="106.0" r="4.6"/><circle cx="552.3" cy="111.0" r="4.6"/><ellipse cx="545.8" cy="132.3" rx="5.7" ry="4.8" transform="rotate(301 545.8 132.3)"/><ellipse cx="547.5" cy="145.6" rx="5.6" ry="4.7" transform="rotate(287 547.5 145.6)"/><ellipse cx="556.5" cy="78.8" rx="5.3" ry="4.5" transform="rotate(91 556.5 78.8)"/><ellipse cx="565.2" cy="97.7" rx="5.5" ry="4.7" transform="rotate(178 565.2 97.7)"/><ellipse cx="560.2" cy="107.3" rx="5.3" ry="4.4" transform="rotate(28 560.2 107.3)"/><ellipse cx="559.6" cy="114.6" rx="5.8" ry="4.8" transform="rotate(22 559.6 114.6)"/><ellipse cx="560.6" cy="134.9" rx="5.1" ry="4.3" transform="rotate(167 560.6 134.9)"/><ellipse cx="563.6" cy="154.1" rx="5.9" ry="5.0" transform="rotate(6 563.6 154.1)"/><circle cx="568.6" cy="72.3" r="4.5"/><circle cx="570.7" cy="78.3" r="4.5"/><ellipse cx="577.1" cy="90.0" rx="6.0" ry="5.0" transform="rotate(295 577.1 90.0)"/><circle cx="576.4" cy="103.2" r="4.4"/><circle cx="575.4" cy="109.3" r="4.4"/><ellipse cx="570.6" cy="117.3" rx="5.0" ry="4.2" transform="rotate(114 570.6 117.3)"/><circle cx="567.0" cy="142.1" r="4.3"/><circle cx="572.8" cy="140.8" r="4.3"/><circle cx="581.7" cy="151.1" r="4.2"/><circle cx="577.1" cy="147.3" r="4.2"/><ellipse cx="587.6" cy="76.5" rx="5.3" ry="4.5" transform="rotate(337 587.6 76.5)"/><ellipse cx="583.3" cy="98.9" rx="5.7" ry="4.8" transform="rotate(318 583.3 98.9)"/><ellipse cx="584.6" cy="108.5" rx="5.5" ry="4.6" transform="rotate(18 584.6 108.5)"/><circle cx="581.2" cy="113.6" r="4.4"/><circle cx="583.9" cy="119.2" r="4.4"/><ellipse cx="588.6" cy="138.6" rx="5.3" ry="4.5" transform="rotate(94 588.6 138.6)"/><circle cx="585.3" cy="143.3" r="4.4"/><circle cx="579.3" cy="144.9" r="4.4"/><circle cx="605.0" cy="74.6" r="4.1"/><circle cx="600.6" cy="78.2" r="4.1"/><circle cx="596.1" cy="93.2" r="4.7"/><circle cx="598.8" cy="87.3" r="4.7"/><ellipse cx="600.0" cy="103.5" rx="5.3" ry="4.5" transform="rotate(122 600.0 103.5)"/><circle cx="595.5" cy="121.6" r="4.2"/><circle cx="600.0" cy="125.4" r="4.2"/><circle cx="595.0" cy="139.9" r="4.0"/><circle cx="599.6" cy="143.2" r="4.0"/><ellipse cx="604.5" cy="150.1" rx="5.4" ry="4.6" transform="rotate(211 604.5 150.1)"/><ellipse cx="615.0" cy="81.5" rx="5.2" ry="4.3" transform="rotate(89 615.0 81.5)"/><ellipse cx="617.1" cy="96.5" rx="5.5" ry="4.6" transform="rotate(233 617.1 96.5)"/><circle cx="607.3" cy="128.6" r="4.1"/><circle cx="611.9" cy="125.1" r="4.1"/><circle cx="613.4" cy="127.2" r="4.5"/><circle cx="610.7" cy="132.9" r="4.5"/><ellipse cx="613.1" cy="141.9" rx="6.1" ry="5.1" transform="rotate(109 613.1 141.9)"/><circle cx="627.1" cy="73.5" r="4.6"/><circle cx="620.6" cy="73.7" r="4.6"/><circle cx="629.3" cy="104.4" r="4.8"/><circle cx="622.6" cy="104.1" r="4.8"/><ellipse cx="622.7" cy="135.3" rx="5.8" ry="4.9" transform="rotate(71 622.7 135.3)"/><ellipse cx="628.0" cy="149.0" rx="5.2" ry="4.4" transform="rotate(295 628.0 149.0)"/><ellipse cx="640.6" cy="76.2" rx="5.5" ry="4.6" transform="rotate(67 640.6 76.2)"/><circle cx="635.7" cy="89.0" r="4.1"/><circle cx="630.0" cy="90.4" r="4.1"/><ellipse cx="634.2" cy="112.5" rx="6.1" ry="5.1" transform="rotate(318 634.2 112.5)"/><circle cx="630.4" cy="127.4" r="4.6"/><circle cx="636.8" cy="127.3" r="4.6"/><ellipse cx="633.1" cy="131.3" rx="5.4" ry="4.5" transform="rotate(1 633.1 131.3)"/><circle cx="645.0" cy="146.9" r="4.7"/><circle cx="639.8" cy="142.8" r="4.7"/><circle cx="650.8" cy="94.6" r="4.8"/><circle cx="644.5" cy="96.9" r="4.8"/><ellipse cx="650.7" cy="109.2" rx="5.1" ry="4.3" transform="rotate(15 650.7 109.2)"/><ellipse cx="653.0" cy="123.7" rx="6.1" ry="5.1" transform="rotate(122 653.0 123.7)"/><ellipse cx="652.0" cy="131.1" rx="5.9" ry="4.9" transform="rotate(99 652.0 131.1)"/><ellipse cx="653.8" cy="142.0" rx="6.1" ry="5.1" transform="rotate(84 653.8 142.0)"/><ellipse cx="661.6" cy="77.2" rx="5.2" ry="4.4" transform="rotate(178 661.6 77.2)"/><circle cx="664.7" cy="98.8" r="4.3"/><circle cx="668.5" cy="94.1" r="4.3"/><circle cx="655.0" cy="104.6" r="4.1"/><circle cx="660.7" cy="104.7" r="4.1"/><circle cx="657.3" cy="125.1" r="4.2"/><circle cx="661.3" cy="129.6" r="4.2"/><ellipse cx="664.0" cy="136.9" rx="5.5" ry="4.6" transform="rotate(161 664.0 136.9)"/><circle cx="662.6" cy="156.3" r="4.8"/><circle cx="668.3" cy="152.9" r="4.8"/></g>
</g>
<g clip-path="url(#cB2)" filter="url(#soft)">
<rect x="400.5" y="161.5" width="268" height="87" fill="#16161e"/>
<g fill="none" stroke="#c7bc98" stroke-width="1.3" opacity="0.8"><path d="M406.5 166.9Q409.6 163.5 405.8 157.8" /><path d="M409.2 167.6Q407.9 174.1 416.8 178.5" /><path d="M402.7 189.8Q404.0 182.9 394.7 178.3" /><path d="M409.2 186.3Q415.3 184.1 414.7 174.5" /><path d="M414.7 205.3Q419.5 207.1 424.0 200.9" /><path d="M415.3 202.5Q410.5 206.6 414.6 215.2" /><path d="M407.7 220.8Q405.4 225.0 410.5 230.0" /><path d="M405.6 221.1Q403.6 224.6 407.9 228.8" /><path d="M409.5 240.8Q411.1 244.8 417.5 244.1" /><path d="M407.7 241.9Q408.1 237.7 402.2 235.4" /><path d="M429.5 171.4Q427.7 166.7 420.2 167.3" /><path d="M427.7 170.3Q431.3 173.9 437.9 170.1" /><path d="M425.6 187.4Q419.1 186.0 414.5 194.8" /><path d="M427.0 193.3Q430.6 197.7 438.3 194.4" /><path d="M429.9 199.0Q425.2 202.0 427.6 209.9" /><path d="M430.3 199.7Q425.5 195.4 417.5 200.5" /><path d="M429.6 219.9Q434.5 221.6 438.8 215.3" /><path d="M428.6 216.7Q432.9 215.4 432.7 208.7" /><path d="M423.0 234.7Q417.6 233.8 414.1 241.3" /><path d="M427.1 234.1Q422.8 238.5 427.4 246.4" /><path d="M448.7 165.4Q447.9 159.8 439.6 158.8" /><path d="M447.1 168.2Q441.6 166.5 437.0 173.7" /><path d="M442.4 185.8Q442.3 180.3 434.4 178.4" /><path d="M441.9 183.5Q446.4 180.5 444.0 172.9" /><path d="M442.8 201.2Q440.1 198.1 434.6 200.7" /><path d="M441.8 201.0Q445.9 196.1 440.5 188.4" /><path d="M448.0 228.0Q447.4 234.5 456.6 237.9" /><path d="M447.9 226.0Q452.2 224.4 451.5 217.6" /><path d="M444.9 236.1Q450.7 232.7 448.1 222.9" /><path d="M451.5 235.5Q454.8 232.5 451.8 226.6" /><path d="M458.8 170.1Q463.2 171.4 466.9 165.6" /><path d="M458.1 167.3Q454.2 168.7 454.6 174.8" /><path d="M461.9 190.9Q460.0 197.0 468.1 202.0" /><path d="M467.9 191.1Q468.4 186.0 461.3 183.4" /><path d="M465.7 204.2Q470.0 208.3 477.5 203.7" /><path d="M467.2 200.7Q461.7 205.1 465.9 214.6" /><path d="M465.6 217.9Q468.5 214.9 465.3 209.7" /><path d="M463.7 221.2Q464.4 214.3 454.8 210.6" /><path d="M463.9 238.0Q458.7 236.0 453.8 242.6" /><path d="M456.9 236.9Q453.2 241.7 458.6 248.7" /><path d="M479.6 166.5Q476.1 171.1 481.4 177.8" /><path d="M475.9 172.3Q476.0 166.9 468.2 164.7" /><path d="M481.2 186.6Q485.6 183.8 483.3 176.4" /><path d="M481.9 191.6Q482.7 186.0 474.9 182.7" /><path d="M481.8 207.1Q477.1 211.8 482.0 220.5" /><path d="M482.0 209.1Q477.4 208.1 474.1 214.3" /><path d="M480.3 222.6Q479.8 217.1 471.7 215.7" /><path d="M477.5 216.5Q476.0 221.2 482.0 225.3" /><path d="M486.2 241.4Q490.6 246.3 499.3 242.0" /><path d="M482.1 238.6Q485.7 234.6 481.5 227.9" /></g>
<g fill="none" stroke="#ddd6c8" stroke-width="1.1" opacity="0.6"><path d="M494.0 171.1L489.4 169.1" /><path d="M505.8 208.7L505.5 213.7" /><path d="M504.8 202.7L508.6 199.4" /><path d="M506.4 249.5L505.1 254.4" /><path d="M526.1 165.5L530.9 166.6" /><path d="M532.7 179.9L537.5 181.0" /><path d="M532.2 196.6L537.1 197.1" /><path d="M508.2 233.6L503.2 234.2" /><path d="M522.5 237.0L525.5 233.0" /><path d="M527.0 166.1L522.8 163.4" /><path d="M538.5 193.5L539.3 198.5" /><path d="M540.4 211.4L540.4 216.4" /><path d="M547.9 230.7L552.1 233.4" /><path d="M536.4 254.4L534.3 259.0" /><path d="M549.8 159.3L551.8 154.7" /><path d="M553.9 193.0L551.6 197.5" /><path d="M542.8 196.8L539.4 193.1" /><path d="M547.8 203.6L547.7 198.6" /><path d="M547.5 216.8L548.3 211.8" /><path d="M538.1 247.3L533.1 246.5" /><path d="M568.3 182.8L566.0 187.2" /><path d="M567.3 177.9L567.4 172.9" /><path d="M568.0 186.5L568.7 181.6" /><path d="M575.6 217.6L579.8 220.4" /><path d="M570.0 252.1L568.1 256.7" /><path d="M591.0 180.7L589.6 185.5" /><path d="M600.1 180.8L604.9 181.9" /><path d="M598.7 211.4L598.9 216.4" /><path d="M599.1 223.9L599.6 228.9" /><path d="M588.2 240.8L586.8 245.6" /><path d="M590.8 236.3L593.5 232.1" /><path d="M600.0 169.7L595.2 168.3" /><path d="M609.8 210.5L608.8 215.4" /><path d="M608.4 236.6L608.4 241.6" /><path d="M622.5 160.0L622.4 155.0" /><path d="M621.6 193.7L619.9 198.4" /><path d="M624.1 185.9L626.9 181.7" /><path d="M633.7 217.0L636.6 221.1" /><path d="M624.1 236.7L624.5 241.7" /><path d="M627.4 252.5L626.3 257.4" /><path d="M634.1 193.5L630.1 196.5" /><path d="M653.3 195.6L658.3 196.4" /><path d="M645.1 202.4L648.4 198.6" /><path d="M651.5 230.9L655.8 233.5" /><path d="M651.4 237.7L656.4 237.3" /><path d="M659.0 161.1L660.0 156.2" /><path d="M658.2 176.8L659.7 172.0" /><path d="M661.9 202.5L664.9 206.5" /><path d="M667.3 215.1L672.1 216.6" /><path d="M643.8 225.4L639.7 222.6" /><path d="M647.8 242.5L643.6 239.8" /></g>
<g fill="none" stroke="#d9b066" stroke-width="2.6" stroke-linecap="round"><path d="M503.5 171.2Q499.9 168.1 494.0 171.1" /><path d="M501.6 197.0Q499.4 202.8 505.8 208.7" /><path d="M500.1 211.9Q504.9 209.9 504.8 202.7" /><path d="M505.1 240.9Q502.8 244.6 506.4 249.5" /><path d="M514.8 167.6Q519.8 170.5 526.1 165.5" /><path d="M520.4 181.9Q525.8 185.1 532.7 179.9" /><path d="M520.6 200.3Q526.2 202.6 532.2 196.6" /><path d="M515.3 229.5Q511.3 228.8 508.2 233.6" /><path d="M520.6 245.0Q523.9 242.5 522.5 237.0" /><path d="M535.7 167.6Q532.9 164.2 527.0 166.1" /><path d="M531.6 182.7Q530.8 189.1 538.5 193.5" /><path d="M536.3 201.7Q534.8 206.7 540.4 211.4" /><path d="M537.9 229.2Q541.2 233.0 547.9 230.7" /><path d="M536.8 241.7Q532.5 246.5 536.4 254.4" /><path d="M549.7 170.6Q553.3 166.3 549.8 159.3" /><path d="M554.6 182.5Q550.9 186.3 553.9 193.0" /><path d="M550.8 200.5Q548.9 196.5 542.8 196.8" /><path d="M551.3 211.6Q552.5 207.4 547.8 203.6" /><path d="M549.8 226.8Q552.2 222.2 547.5 216.8" /><path d="M548.8 244.6Q543.8 242.2 538.1 247.3" /><path d="M568.9 171.4Q565.0 175.6 568.3 182.8" /><path d="M570.9 186.8Q572.4 182.2 567.3 177.9" /><path d="M570.7 196.6Q572.9 191.9 568.0 186.5" /><path d="M565.9 215.7Q569.0 219.5 575.6 217.6" /><path d="M570.0 240.5Q566.3 244.9 570.0 252.1" /><path d="M589.8 170.8Q587.1 175.0 591.0 180.7" /><path d="M591.8 182.2Q595.4 184.3 600.1 180.8" /><path d="M593.0 199.8Q591.4 206.1 598.7 211.4" /><path d="M593.4 213.3Q592.2 219.2 599.1 223.9" /><path d="M586.9 229.0Q583.6 234.0 588.2 240.8" /><path d="M589.5 244.2Q592.5 241.6 590.8 236.3" /><path d="M608.7 168.7Q605.0 166.3 600.0 169.7" /><path d="M607.4 197.9Q604.3 203.5 609.8 210.5" /><path d="M604.0 226.4Q602.4 231.7 608.4 236.6" /><path d="M627.3 170.3Q628.8 164.8 622.5 160.0" /><path d="M621.0 182.2Q617.6 186.8 621.6 193.7" /><path d="M622.1 197.0Q626.5 193.4 624.1 185.9" /><path d="M626.8 212.7Q628.1 216.6 633.7 217.0" /><path d="M620.5 229.4Q619.5 233.4 624.1 236.7" /><path d="M625.8 243.3Q623.5 247.3 627.4 252.5" /><path d="M639.6 183.6Q634.3 185.6 634.1 193.5" /><path d="M643.6 198.0Q648.1 200.2 653.3 195.6" /><path d="M641.7 212.9Q646.4 210.0 645.1 202.4" /><path d="M642.6 229.7Q645.6 233.1 651.5 230.9" /><path d="M642.6 242.2Q647.4 243.3 651.4 237.7" /><path d="M661.1 171.7Q663.7 167.0 659.0 161.1" /><path d="M659.1 187.0Q662.1 182.8 658.2 176.8" /><path d="M654.6 198.3Q656.0 202.3 661.9 202.5" /><path d="M658.3 215.9Q662.0 218.5 667.3 215.1" /><path d="M655.5 227.8Q651.8 223.2 643.8 225.4" /><path d="M660.2 244.6Q656.1 239.8 647.8 242.5" /></g>
<g fill="none" stroke="#f0dca0" stroke-width="1.1" stroke-linecap="round" opacity="0.8"><path d="M503.5 171.2Q499.9 168.1 494.0 171.1" /><path d="M500.1 211.9Q504.9 209.9 504.8 202.7" /><path d="M514.8 167.6Q519.8 170.5 526.1 165.5" /><path d="M520.6 200.3Q526.2 202.6 532.2 196.6" /><path d="M520.6 245.0Q523.9 242.5 522.5 237.0" /><path d="M531.6 182.7Q530.8 189.1 538.5 193.5" /><path d="M537.9 229.2Q541.2 233.0 547.9 230.7" /><path d="M549.7 170.6Q553.3 166.3 549.8 159.3" /><path d="M550.8 200.5Q548.9 196.5 542.8 196.8" /><path d="M549.8 226.8Q552.2 222.2 547.5 216.8" /><path d="M568.9 171.4Q565.0 175.6 568.3 182.8" /><path d="M570.7 196.6Q572.9 191.9 568.0 186.5" /><path d="M570.0 240.5Q566.3 244.9 570.0 252.1" /><path d="M591.8 182.2Q595.4 184.3 600.1 180.8" /><path d="M593.4 213.3Q592.2 219.2 599.1 223.9" /><path d="M589.5 244.2Q592.5 241.6 590.8 236.3" /><path d="M607.4 197.9Q604.3 203.5 609.8 210.5" /><path d="M627.3 170.3Q628.8 164.8 622.5 160.0" /><path d="M622.1 197.0Q626.5 193.4 624.1 185.9" /><path d="M620.5 229.4Q619.5 233.4 624.1 236.7" /><path d="M639.6 183.6Q634.3 185.6 634.1 193.5" /><path d="M641.7 212.9Q646.4 210.0 645.1 202.4" /><path d="M642.6 242.2Q647.4 243.3 651.4 237.7" /><path d="M659.1 187.0Q662.1 182.8 658.2 176.8" /><path d="M658.3 215.9Q662.0 218.5 667.3 215.1" /><path d="M660.2 244.6Q656.1 239.8 647.8 242.5" /></g>
<g fill="#d99a40"><circle cx="447.7" cy="166.9" r="1.7"/><circle cx="441.7" cy="204.5" r="1.7"/><circle cx="444.0" cy="226.1" r="1.7"/><circle cx="448.3" cy="237.3" r="1.7"/><circle cx="460.6" cy="170.0" r="1.7"/><circle cx="464.9" cy="190.7" r="1.7"/><circle cx="466.6" cy="201.8" r="1.7"/><circle cx="460.7" cy="240.9" r="1.7"/><circle cx="483.1" cy="190.5" r="1.7"/><circle cx="479.1" cy="220.1" r="1.7"/><circle cx="504.9" cy="186.9" r="1.9"/><circle cx="501.7" cy="225.0" r="1.9"/><circle cx="519.6" cy="212.2" r="1.9"/><circle cx="532.5" cy="214.3" r="1.9"/><circle cx="569.6" cy="230.8" r="1.9"/><circle cx="605.3" cy="183.8" r="1.9"/><circle cx="608.1" cy="212.0" r="1.9"/><circle cx="608.4" cy="245.4" r="1.9"/><circle cx="640.0" cy="168.5" r="1.9"/></g>
<g fill="url(#cot)"><circle cx="408.4" cy="166.0" r="4.0"/><circle cx="408.7" cy="172.0" r="4.0"/><circle cx="407.7" cy="187.9" r="3.7"/><circle cx="404.0" cy="192.0" r="3.7"/><circle cx="409.9" cy="207.7" r="3.7"/><circle cx="413.7" cy="203.6" r="3.7"/><circle cx="409.5" cy="220.7" r="3.7"/><circle cx="404.4" cy="218.6" r="3.7"/><circle cx="413.2" cy="241.0" r="3.8"/><circle cx="407.6" cy="239.8" r="3.8"/><circle cx="430.2" cy="165.2" r="4.4"/><circle cx="430.0" cy="171.8" r="4.4"/><circle cx="423.9" cy="192.2" r="3.9"/><circle cx="427.9" cy="188.0" r="3.9"/><circle cx="425.4" cy="199.0" r="4.5"/><circle cx="427.7" cy="205.3" r="4.5"/><circle cx="423.7" cy="217.1" r="4.3"/><circle cx="429.0" cy="220.8" r="4.3"/><circle cx="421.3" cy="237.6" r="3.5"/><circle cx="426.6" cy="237.9" r="3.5"/><circle cx="446.6" cy="181.6" r="3.9"/><circle cx="442.4" cy="185.7" r="3.9"/><circle cx="463.1" cy="217.3" r="3.5"/><circle cx="463.0" cy="222.6" r="3.5"/><circle cx="481.0" cy="167.3" r="3.6"/><circle cx="476.7" cy="170.5" r="3.6"/><circle cx="484.4" cy="210.0" r="4.4"/><circle cx="486.5" cy="203.7" r="4.4"/><circle cx="485.0" cy="238.9" r="3.8"/><circle cx="483.6" cy="244.5" r="3.8"/></g>
</g>
<g clip-path="url(#cD1)" filter="url(#soft)">
<rect x="76.3" y="589.7" width="253.3" height="100.1" fill="#0a0f18"/>
<g fill="none" stroke="#cfd0d8" stroke-width="1.2" opacity="0.65"><path d="M83.0 635.3Q81.2 656.5 79.7 677.6"/><path d="M87.9 635.0Q86.9 662.3 89.5 689.6"/><path d="M88.1 635.0Q85.3 660.4 86.6 685.9"/><path d="M95.2 631.9Q95.0 656.1 98.6 680.4"/><path d="M100.4 635.2Q98.2 660.7 101.8 686.2"/><path d="M98.1 635.2Q95.1 658.3 97.8 681.4"/><path d="M110.3 634.2Q107.9 658.2 105.1 682.2"/><path d="M112.0 632.8Q111.5 653.5 110.0 674.2"/><path d="M111.4 632.8Q112.9 653.7 109.7 674.6"/><path d="M120.1 635.2Q115.5 655.8 118.7 676.4"/><path d="M118.3 635.2Q116.5 660.8 117.0 686.5"/><path d="M122.7 633.0Q126.7 659.6 122.8 686.2"/><path d="M129.0 634.9Q132.7 659.2 127.6 683.5"/><path d="M131.3 634.9Q127.1 660.3 129.4 685.7"/><path d="M135.2 630.8Q137.5 653.4 143.3 676.0"/><path d="M144.9 634.0Q147.5 654.5 146.6 675.0"/><path d="M143.3 634.0Q145.1 656.8 141.6 679.6"/><path d="M150.0 630.8Q151.7 659.9 152.6 688.9"/><path d="M149.3 630.8Q147.7 659.4 154.1 687.9"/><path d="M151.6 632.4Q152.8 658.8 149.3 685.2"/><path d="M152.0 632.4Q149.9 658.5 151.9 684.5"/><path d="M165.7 634.6Q163.6 660.8 164.9 687.0"/><path d="M172.4 637.1Q174.2 660.0 177.8 682.9"/><path d="M172.2 637.1Q170.6 661.1 172.0 685.0"/><path d="M178.2 633.8Q178.5 661.9 178.6 690.0"/><path d="M178.5 633.8Q178.3 656.4 180.7 679.0"/><path d="M188.0 637.4Q193.7 663.6 192.8 689.8"/><path d="M188.3 637.4Q186.0 657.3 183.5 677.2"/><path d="M192.5 635.6Q188.5 660.6 189.3 685.7"/><path d="M201.3 633.4Q201.7 661.1 195.7 688.8"/><path d="M209.9 634.3Q208.7 661.8 210.4 689.3"/><path d="M207.6 634.3Q208.4 656.6 209.0 679.0"/><path d="M215.1 635.6Q213.3 657.1 215.9 678.6"/><path d="M214.8 635.6Q209.7 661.6 210.7 687.7"/><path d="M230.4 632.0Q230.1 656.6 233.4 681.2"/><path d="M248.6 632.4Q251.1 660.7 251.5 688.9"/><path d="M250.4 632.4Q253.1 656.9 249.7 681.4"/><path d="M259.5 632.1Q256.5 658.2 258.9 684.2"/><path d="M257.5 632.1Q261.1 659.1 263.6 686.0"/><path d="M265.8 631.5Q264.0 659.1 262.5 686.7"/><path d="M269.0 628.5Q269.3 655.3 275.8 682.1"/><path d="M267.1 628.5Q268.9 652.0 268.1 675.4"/><path d="M275.2 630.2Q275.6 653.4 281.5 676.6"/><path d="M276.4 630.2Q282.9 659.4 281.0 688.6"/><path d="M282.3 632.3Q284.2 652.2 277.5 672.2"/><path d="M284.8 632.3Q281.2 655.5 286.7 678.8"/><path d="M292.3 629.3Q294.1 652.0 294.8 674.6"/><path d="M291.9 629.3Q293.1 653.9 298.3 678.5"/><path d="M300.3 632.5Q301.5 660.9 302.2 689.3"/><path d="M305.6 632.6Q305.9 653.4 309.2 674.2"/><path d="M316.3 631.5Q317.2 658.0 315.0 684.4"/><path d="M314.5 631.5Q308.3 654.8 307.7 678.2"/><path d="M319.2 629.9Q316.0 653.9 320.4 678.0"/><path d="M320.0 629.9Q319.9 651.4 326.1 672.8"/><path d="M328.5 630.1Q327.2 657.4 324.6 684.7"/><path d="M328.2 630.1Q332.1 655.6 330.9 681.1"/></g>
<g fill="none" stroke="#ececf2" stroke-width="1.8" stroke-linecap="round" opacity="0.7"><path d="M81.2 635.3Q82.6 643.3 82.1 653.1"/><path d="M88.3 635.0Q89.1 643.0 86.9 652.2"/><path d="M96.2 631.9Q97.2 639.9 98.5 651.4"/><path d="M100.0 635.2Q101.9 643.2 102.9 655.0"/><path d="M108.5 634.2Q109.1 642.2 107.6 653.6"/><path d="M113.4 632.8Q114.2 640.8 110.9 647.3"/><path d="M119.9 635.2Q119.7 643.2 119.7 651.1"/><path d="M123.6 633.0Q123.0 641.0 119.9 652.0"/><path d="M130.6 634.9Q129.6 642.9 131.1 660.7"/><path d="M136.8 630.8Q135.8 638.8 139.3 645.2"/><path d="M143.2 634.0Q142.7 642.0 146.7 657.3"/><path d="M148.7 630.8Q147.8 638.8 150.2 648.1"/><path d="M152.5 632.4Q152.7 640.4 151.4 657.1"/><path d="M164.6 634.6Q164.7 642.6 168.5 656.8"/><path d="M172.6 637.1Q172.8 645.1 171.7 655.0"/><path d="M178.1 633.8Q177.5 641.8 181.7 655.9"/><path d="M188.3 637.4Q187.1 645.4 185.8 658.9"/><path d="M194.1 635.6Q192.7 643.6 194.2 659.5"/><path d="M202.1 633.4Q203.7 641.4 204.6 651.1"/><path d="M208.2 634.3Q208.0 642.3 206.5 648.6"/><path d="M214.7 635.6Q214.9 643.6 212.9 658.8"/><path d="M229.0 632.0Q228.9 640.0 230.0 653.5"/><path d="M249.7 632.4Q250.0 640.4 253.2 647.8"/><path d="M258.8 632.1Q260.6 640.1 261.4 652.9"/><path d="M264.8 631.5Q263.5 639.5 266.1 652.7"/><path d="M269.0 628.5Q270.7 636.5 270.2 650.0"/><path d="M276.7 630.2Q274.9 638.2 274.5 649.3"/><path d="M283.6 632.3Q284.3 640.3 284.1 651.9"/><path d="M292.1 629.3Q291.2 637.3 289.9 655.0"/><path d="M300.5 632.5Q301.2 640.5 300.8 658.2"/><path d="M304.7 632.6Q306.5 640.6 306.4 647.1"/><path d="M314.5 631.5Q316.0 639.5 316.9 646.0"/><path d="M319.3 629.9Q318.4 637.9 317.5 649.9"/><path d="M327.0 630.1Q328.9 638.1 324.2 646.6"/></g>
<g fill="#2f7a1c"><ellipse cx="79.8" cy="607.8" rx="3.9" ry="3.7" transform="rotate(2 79.8 607.8)"/><ellipse cx="73.0" cy="602.3" rx="5.0" ry="3.6" transform="rotate(36 73.0 602.3)"/><ellipse cx="100.7" cy="620.6" rx="4.3" ry="3.7" transform="rotate(23 100.7 620.6)"/><ellipse cx="91.9" cy="610.7" rx="4.3" ry="3.8" transform="rotate(-15 91.9 610.7)"/><ellipse cx="103.2" cy="613.8" rx="3.8" ry="3.0" transform="rotate(-3 103.2 613.8)"/><ellipse cx="100.0" cy="619.0" rx="4.1" ry="3.4" transform="rotate(-21 100.0 619.0)"/><ellipse cx="97.6" cy="627.8" rx="4.1" ry="2.8" transform="rotate(-36 97.6 627.8)"/><ellipse cx="100.7" cy="626.1" rx="4.2" ry="3.9" transform="rotate(-32 100.7 626.1)"/><ellipse cx="118.2" cy="610.6" rx="4.7" ry="3.7" transform="rotate(21 118.2 610.6)"/><ellipse cx="107.3" cy="612.0" rx="4.6" ry="3.9" transform="rotate(-2 107.3 612.0)"/><ellipse cx="117.0" cy="613.5" rx="4.0" ry="3.8" transform="rotate(21 117.0 613.5)"/><ellipse cx="109.8" cy="612.3" rx="4.0" ry="3.7" transform="rotate(-17 109.8 612.3)"/><ellipse cx="114.6" cy="612.4" rx="3.9" ry="3.1" transform="rotate(9 114.6 612.4)"/><ellipse cx="112.6" cy="621.3" rx="3.6" ry="3.7" transform="rotate(-3 112.6 621.3)"/><ellipse cx="126.1" cy="620.6" rx="3.8" ry="3.0" transform="rotate(40 126.1 620.6)"/><ellipse cx="127.2" cy="618.1" rx="3.8" ry="2.9" transform="rotate(26 127.2 618.1)"/><ellipse cx="129.7" cy="623.2" rx="4.0" ry="3.7" transform="rotate(8 129.7 623.2)"/><ellipse cx="126.4" cy="623.7" rx="3.9" ry="2.9" transform="rotate(23 126.4 623.7)"/><ellipse cx="145.6" cy="611.4" rx="3.6" ry="2.9" transform="rotate(23 145.6 611.4)"/><ellipse cx="141.6" cy="612.0" rx="3.7" ry="2.9" transform="rotate(-23 141.6 612.0)"/><ellipse cx="137.4" cy="606.2" rx="4.5" ry="3.2" transform="rotate(14 137.4 606.2)"/><ellipse cx="142.2" cy="604.3" rx="3.7" ry="3.0" transform="rotate(1 142.2 604.3)"/><ellipse cx="145.0" cy="609.8" rx="4.4" ry="3.9" transform="rotate(25 145.0 609.8)"/><ellipse cx="148.6" cy="609.2" rx="4.4" ry="3.9" transform="rotate(16 148.6 609.2)"/><ellipse cx="156.0" cy="605.1" rx="4.9" ry="3.2" transform="rotate(1 156.0 605.1)"/><ellipse cx="149.9" cy="606.8" rx="5.0" ry="3.2" transform="rotate(-38 149.9 606.8)"/><ellipse cx="165.9" cy="608.8" rx="4.4" ry="3.6" transform="rotate(12 165.9 608.8)"/><ellipse cx="174.3" cy="600.1" rx="4.6" ry="3.5" transform="rotate(23 174.3 600.1)"/><ellipse cx="162.6" cy="626.8" rx="4.0" ry="3.8" transform="rotate(-9 162.6 626.8)"/><ellipse cx="174.8" cy="616.8" rx="4.1" ry="3.9" transform="rotate(-39 174.8 616.8)"/><ellipse cx="182.0" cy="611.6" rx="5.0" ry="3.2" transform="rotate(27 182.0 611.6)"/><ellipse cx="186.3" cy="604.1" rx="4.0" ry="3.2" transform="rotate(-31 186.3 604.1)"/><ellipse cx="176.7" cy="611.0" rx="4.8" ry="3.5" transform="rotate(-37 176.7 611.0)"/><ellipse cx="179.4" cy="613.7" rx="4.3" ry="3.1" transform="rotate(28 179.4 613.7)"/><ellipse cx="192.2" cy="613.2" rx="4.9" ry="2.9" transform="rotate(-16 192.2 613.2)"/><ellipse cx="189.7" cy="606.6" rx="3.6" ry="3.9" transform="rotate(34 189.7 606.6)"/><ellipse cx="202.0" cy="606.4" rx="4.7" ry="3.1" transform="rotate(-18 202.0 606.4)"/><ellipse cx="192.1" cy="605.0" rx="3.5" ry="3.9" transform="rotate(10 192.1 605.0)"/><ellipse cx="203.9" cy="605.7" rx="4.6" ry="3.3" transform="rotate(34 203.9 605.7)"/><ellipse cx="204.6" cy="614.0" rx="4.3" ry="3.1" transform="rotate(17 204.6 614.0)"/><ellipse cx="223.0" cy="614.7" rx="4.3" ry="3.2" transform="rotate(24 223.0 614.7)"/><ellipse cx="224.3" cy="615.8" rx="4.6" ry="2.9" transform="rotate(-4 224.3 615.8)"/><ellipse cx="223.9" cy="606.8" rx="3.8" ry="2.9" transform="rotate(37 223.9 606.8)"/><ellipse cx="229.3" cy="608.0" rx="3.6" ry="2.8" transform="rotate(-20 229.3 608.0)"/><ellipse cx="241.5" cy="622.9" rx="4.6" ry="2.9" transform="rotate(10 241.5 622.9)"/><ellipse cx="252.6" cy="618.7" rx="3.8" ry="3.4" transform="rotate(4 252.6 618.7)"/><ellipse cx="265.9" cy="608.0" rx="4.5" ry="3.4" transform="rotate(21 265.9 608.0)"/><ellipse cx="260.3" cy="609.5" rx="4.3" ry="3.3" transform="rotate(4 260.3 609.5)"/><ellipse cx="263.0" cy="612.4" rx="4.2" ry="2.9" transform="rotate(1 263.0 612.4)"/><ellipse cx="266.5" cy="610.6" rx="3.9" ry="3.5" transform="rotate(-35 266.5 610.6)"/><ellipse cx="267.6" cy="621.8" rx="4.8" ry="3.9" transform="rotate(-19 267.6 621.8)"/><ellipse cx="266.5" cy="623.0" rx="4.0" ry="3.5" transform="rotate(8 266.5 623.0)"/><ellipse cx="281.3" cy="622.8" rx="4.2" ry="3.1" transform="rotate(7 281.3 622.8)"/><ellipse cx="267.6" cy="622.7" rx="4.8" ry="3.7" transform="rotate(14 267.6 622.7)"/><ellipse cx="281.4" cy="606.5" rx="4.5" ry="3.5" transform="rotate(13 281.4 606.5)"/><ellipse cx="284.6" cy="608.6" rx="4.5" ry="3.2" transform="rotate(3 284.6 608.6)"/><ellipse cx="292.5" cy="616.6" rx="3.7" ry="3.4" transform="rotate(35 292.5 616.6)"/><ellipse cx="297.2" cy="620.5" rx="4.5" ry="3.8" transform="rotate(-23 297.2 620.5)"/><ellipse cx="309.4" cy="614.0" rx="3.7" ry="3.0" transform="rotate(-29 309.4 614.0)"/><ellipse cx="304.7" cy="619.8" rx="4.3" ry="3.9" transform="rotate(5 304.7 619.8)"/><ellipse cx="296.1" cy="623.8" rx="4.2" ry="3.7" transform="rotate(22 296.1 623.8)"/><ellipse cx="297.3" cy="621.2" rx="3.8" ry="3.5" transform="rotate(-3 297.3 621.2)"/><ellipse cx="318.8" cy="614.1" rx="4.3" ry="3.2" transform="rotate(-24 318.8 614.1)"/><ellipse cx="319.8" cy="609.6" rx="3.8" ry="3.2" transform="rotate(19 319.8 609.6)"/><ellipse cx="326.4" cy="615.5" rx="4.0" ry="3.1" transform="rotate(-10 326.4 615.5)"/><ellipse cx="329.8" cy="619.8" rx="4.5" ry="3.2" transform="rotate(3 329.8 619.8)"/><ellipse cx="331.8" cy="614.8" rx="4.9" ry="3.2" transform="rotate(-16 331.8 614.8)"/><ellipse cx="329.7" cy="608.2" rx="3.8" ry="3.5" transform="rotate(19 329.7 608.2)"/></g>
<g fill="none" stroke="#c4c83c" stroke-width="2.2"><path d="M81.2 637.3Q79.6 620.9 75.9 611.4"/><path d="M88.3 637.0Q90.0 624.7 94.1 619.5"/><path d="M96.2 633.9Q97.9 624.0 101.9 621.1"/><path d="M100.0 637.2Q100.0 627.1 99.9 623.9"/><path d="M108.5 636.2Q110.0 624.6 113.5 620.0"/><path d="M113.4 634.8Q113.9 622.5 115.2 617.2"/><path d="M119.9 637.2Q118.6 624.5 115.6 618.7"/><path d="M123.6 635.0Q123.4 624.0 122.9 620.0"/><path d="M130.6 636.9Q129.0 625.5 125.3 621.1"/><path d="M136.8 632.8Q137.9 618.6 140.4 611.4"/><path d="M143.2 636.0Q142.2 621.6 139.9 614.2"/><path d="M148.7 632.8Q147.0 622.0 143.0 618.1"/><path d="M152.5 634.4Q151.8 620.1 150.0 612.8"/><path d="M164.6 636.6Q166.0 619.8 169.1 610.0"/><path d="M172.6 639.1Q171.3 628.0 168.4 623.9"/><path d="M178.1 635.8Q179.5 620.8 182.9 612.8"/><path d="M188.3 639.4Q186.9 624.5 183.6 616.7"/><path d="M194.1 637.6Q193.0 620.9 190.4 611.2"/><path d="M202.1 635.4Q200.5 619.0 196.7 609.7"/><path d="M208.2 636.3Q208.4 620.0 208.7 610.7"/><path d="M214.7 637.6Q216.5 626.9 220.7 623.1"/><path d="M229.0 634.0Q228.1 617.5 226.0 608.0"/><path d="M249.7 634.4Q248.5 623.8 245.6 620.1"/><path d="M258.8 634.1Q260.3 621.6 263.9 616.1"/><path d="M264.8 633.5Q265.5 619.6 267.3 612.6"/><path d="M269.0 630.5Q269.9 623.2 272.0 622.9"/><path d="M276.7 632.2Q276.1 623.1 274.6 620.9"/><path d="M283.6 634.3Q282.0 619.6 278.2 611.9"/><path d="M292.1 631.3Q293.4 621.5 296.3 618.6"/><path d="M300.5 634.5Q301.2 622.6 303.0 617.6"/><path d="M304.7 634.6Q304.1 623.8 302.8 619.9"/><path d="M314.5 633.5Q315.7 622.8 318.5 619.0"/><path d="M319.3 631.9Q320.9 620.8 324.6 616.6"/><path d="M327.0 632.1Q327.4 621.1 328.6 617.1"/></g>
<path d="M204 629 Q218 628 234 630" fill="none" stroke="#b8c048" stroke-width="1.5"/>
<g fill="#4c9c2a"><ellipse cx="82.2" cy="611.6" rx="4.2" ry="3.0" transform="rotate(-26 82.2 611.6)"/><ellipse cx="74.0" cy="610.5" rx="4.4" ry="3.3" transform="rotate(9 74.0 610.5)"/><ellipse cx="89.3" cy="622.4" rx="4.6" ry="3.7" transform="rotate(-4 89.3 622.4)"/><ellipse cx="98.7" cy="620.8" rx="4.8" ry="3.5" transform="rotate(-5 98.7 620.8)"/><ellipse cx="96.2" cy="622.4" rx="4.7" ry="3.1" transform="rotate(34 96.2 622.4)"/><ellipse cx="102.2" cy="614.7" rx="4.7" ry="3.2" transform="rotate(24 102.2 614.7)"/><ellipse cx="100.8" cy="617.6" rx="4.7" ry="3.3" transform="rotate(17 100.8 617.6)"/><ellipse cx="103.6" cy="625.4" rx="4.9" ry="3.1" transform="rotate(-36 103.6 625.4)"/><ellipse cx="108.8" cy="623.5" rx="5.0" ry="3.1" transform="rotate(-36 108.8 623.5)"/><ellipse cx="119.7" cy="623.1" rx="3.6" ry="3.5" transform="rotate(-37 119.7 623.1)"/><ellipse cx="121.2" cy="610.3" rx="4.9" ry="3.8" transform="rotate(-23 121.2 610.3)"/><ellipse cx="119.1" cy="620.6" rx="4.9" ry="3.3" transform="rotate(-38 119.1 620.6)"/><ellipse cx="115.8" cy="617.6" rx="4.7" ry="3.9" transform="rotate(31 115.8 617.6)"/><ellipse cx="115.3" cy="612.8" rx="3.9" ry="3.0" transform="rotate(6 115.3 612.8)"/><ellipse cx="119.8" cy="612.5" rx="4.8" ry="3.4" transform="rotate(-11 119.8 612.5)"/><ellipse cx="125.8" cy="612.7" rx="3.6" ry="2.9" transform="rotate(37 125.8 612.7)"/><ellipse cx="118.8" cy="620.9" rx="4.4" ry="3.8" transform="rotate(5 118.8 620.9)"/><ellipse cx="125.6" cy="617.3" rx="4.3" ry="2.9" transform="rotate(-9 125.6 617.3)"/><ellipse cx="134.8" cy="611.1" rx="3.8" ry="2.8" transform="rotate(36 134.8 611.1)"/><ellipse cx="142.4" cy="607.9" rx="3.9" ry="3.3" transform="rotate(4 142.4 607.9)"/><ellipse cx="137.6" cy="607.5" rx="4.0" ry="3.3" transform="rotate(32 137.6 607.5)"/><ellipse cx="144.2" cy="617.0" rx="4.7" ry="3.8" transform="rotate(-34 144.2 617.0)"/><ellipse cx="143.6" cy="621.0" rx="4.4" ry="3.1" transform="rotate(26 143.6 621.0)"/><ellipse cx="136.2" cy="611.4" rx="3.6" ry="2.9" transform="rotate(4 136.2 611.4)"/><ellipse cx="147.3" cy="609.5" rx="4.7" ry="2.8" transform="rotate(2 147.3 609.5)"/><ellipse cx="146.1" cy="610.0" rx="4.1" ry="3.5" transform="rotate(-39 146.1 610.0)"/><ellipse cx="175.2" cy="605.8" rx="4.5" ry="3.0" transform="rotate(-15 175.2 605.8)"/><ellipse cx="170.7" cy="611.9" rx="4.7" ry="3.4" transform="rotate(20 170.7 611.9)"/><ellipse cx="172.4" cy="625.8" rx="4.2" ry="3.3" transform="rotate(-17 172.4 625.8)"/><ellipse cx="168.9" cy="625.1" rx="4.2" ry="3.3" transform="rotate(-11 168.9 625.1)"/><ellipse cx="183.2" cy="604.2" rx="4.1" ry="3.3" transform="rotate(31 183.2 604.2)"/><ellipse cx="188.9" cy="605.0" rx="3.8" ry="3.3" transform="rotate(11 188.9 605.0)"/><ellipse cx="185.1" cy="611.6" rx="5.0" ry="3.6" transform="rotate(-35 185.1 611.6)"/><ellipse cx="186.3" cy="606.8" rx="3.5" ry="3.7" transform="rotate(30 186.3 606.8)"/><ellipse cx="192.0" cy="612.4" rx="3.6" ry="2.8" transform="rotate(34 192.0 612.4)"/><ellipse cx="188.0" cy="611.2" rx="4.0" ry="3.0" transform="rotate(-6 188.0 611.2)"/><ellipse cx="198.1" cy="613.1" rx="4.2" ry="3.9" transform="rotate(-9 198.1 613.1)"/><ellipse cx="199.2" cy="609.1" rx="4.4" ry="3.3" transform="rotate(11 199.2 609.1)"/><ellipse cx="212.9" cy="604.1" rx="3.7" ry="3.0" transform="rotate(29 212.9 604.1)"/><ellipse cx="213.3" cy="602.5" rx="4.2" ry="3.8" transform="rotate(-10 213.3 602.5)"/><ellipse cx="219.1" cy="622.3" rx="4.4" ry="3.2" transform="rotate(9 219.1 622.3)"/><ellipse cx="223.6" cy="622.9" rx="4.7" ry="3.1" transform="rotate(-16 223.6 622.9)"/><ellipse cx="231.1" cy="611.1" rx="3.8" ry="3.2" transform="rotate(4 231.1 611.1)"/><ellipse cx="231.6" cy="598.4" rx="4.6" ry="3.4" transform="rotate(11 231.6 598.4)"/><ellipse cx="249.3" cy="619.3" rx="4.9" ry="3.9" transform="rotate(34 249.3 619.3)"/><ellipse cx="247.1" cy="610.7" rx="3.9" ry="2.9" transform="rotate(0 247.1 610.7)"/><ellipse cx="259.4" cy="608.4" rx="4.7" ry="3.1" transform="rotate(-7 259.4 608.4)"/><ellipse cx="260.4" cy="606.9" rx="4.0" ry="3.3" transform="rotate(-15 260.4 606.9)"/><ellipse cx="266.7" cy="613.3" rx="4.7" ry="2.9" transform="rotate(-3 266.7 613.3)"/><ellipse cx="260.5" cy="609.4" rx="3.6" ry="3.9" transform="rotate(-2 260.5 609.4)"/><ellipse cx="278.1" cy="622.0" rx="3.9" ry="3.1" transform="rotate(-23 278.1 622.0)"/><ellipse cx="275.5" cy="613.3" rx="4.1" ry="3.0" transform="rotate(7 275.5 613.3)"/><ellipse cx="277.8" cy="624.8" rx="4.4" ry="3.6" transform="rotate(-22 277.8 624.8)"/><ellipse cx="277.2" cy="613.2" rx="4.2" ry="4.0" transform="rotate(-29 277.2 613.2)"/><ellipse cx="278.8" cy="609.1" rx="4.1" ry="3.4" transform="rotate(40 278.8 609.1)"/><ellipse cx="283.4" cy="615.5" rx="4.9" ry="3.5" transform="rotate(-33 283.4 615.5)"/><ellipse cx="292.1" cy="619.1" rx="3.8" ry="3.8" transform="rotate(-28 292.1 619.1)"/><ellipse cx="291.9" cy="618.0" rx="4.6" ry="3.1" transform="rotate(18 291.9 618.0)"/><ellipse cx="298.7" cy="614.3" rx="3.6" ry="3.2" transform="rotate(39 298.7 614.3)"/><ellipse cx="296.8" cy="610.9" rx="4.1" ry="2.8" transform="rotate(36 296.8 610.9)"/><ellipse cx="304.2" cy="611.3" rx="4.3" ry="3.8" transform="rotate(-26 304.2 611.3)"/><ellipse cx="296.2" cy="622.7" rx="3.9" ry="3.2" transform="rotate(17 296.2 622.7)"/><ellipse cx="314.1" cy="620.5" rx="4.5" ry="3.3" transform="rotate(20 314.1 620.5)"/><ellipse cx="325.1" cy="618.7" rx="4.2" ry="3.1" transform="rotate(38 325.1 618.7)"/><ellipse cx="321.2" cy="614.6" rx="4.3" ry="3.9" transform="rotate(-36 321.2 614.6)"/><ellipse cx="330.4" cy="619.3" rx="3.6" ry="3.0" transform="rotate(14 330.4 619.3)"/><ellipse cx="334.0" cy="616.5" rx="4.1" ry="3.3" transform="rotate(-2 334.0 616.5)"/><ellipse cx="334.6" cy="615.3" rx="3.7" ry="3.7" transform="rotate(-8 334.6 615.3)"/></g>
<g fill="#3a8a20" opacity="0.9"><ellipse cx="90" cy="630" rx="6" ry="4"/><ellipse cx="178" cy="628" rx="5" ry="4"/><ellipse cx="198" cy="632" rx="5" ry="3.5"/></g>
</g>
<g clip-path="url(#cD2)" filter="url(#soft)">
<rect x="76.3" y="694.4" width="253.3" height="100.4" fill="#030303"/>
<g fill="none" stroke="#cfcbd6" stroke-width="1.3" opacity="0.7"><path d="M85.4 722Q90.8 737.6 90.4 753.1"/><path d="M85.4 722Q84.7 738.3 77.6 754.6"/><path d="M91.8 722Q95.3 735.7 98.9 749.3"/><path d="M91.8 722Q84.6 735.1 84.6 748.3"/><path d="M98.1 722Q104.9 740.3 104.9 758.6"/><path d="M98.1 722Q97.6 736.2 93.0 750.5"/><path d="M104.5 722Q106.1 744.8 109.4 767.7"/><path d="M104.5 722Q104.6 743.4 112.4 764.7"/><path d="M108.6 722Q102.1 742.0 102.2 761.9"/><path d="M108.6 722Q111.8 737.5 114.3 753.0"/><path d="M115.9 722Q112.9 740.4 107.5 758.8"/><path d="M115.9 722Q116.8 741.2 116.8 760.4"/><path d="M120.6 722Q125.6 737.2 122.9 752.4"/><path d="M120.6 722Q121.5 740.1 128.5 758.2"/><path d="M129.0 722Q129.0 734.1 136.5 746.2"/><path d="M129.0 722Q135.3 735.2 134.0 748.3"/><path d="M134.6 722Q133.6 742.5 125.9 763.0"/><path d="M134.6 722Q134.0 736.6 137.8 751.1"/><path d="M139.7 722Q139.4 734.6 134.9 747.3"/><path d="M139.7 722Q145.0 735.9 142.3 749.8"/><path d="M145.2 722Q144.5 732.1 137.8 742.1"/><path d="M145.2 722Q143.8 736.2 140.7 750.3"/><path d="M153.5 722Q154.6 743.2 147.7 764.5"/><path d="M153.5 722Q148.5 732.3 149.8 742.6"/><path d="M157.6 722Q158.1 740.3 156.0 758.7"/><path d="M157.6 722Q159.8 736.4 155.7 750.7"/></g>
<g fill="none" stroke="#eeeaf2" stroke-width="2.2" stroke-linecap="round" opacity="0.75"><path d="M85.4 721Q84.5 728 83.5 730.2"/><path d="M91.8 721Q90.3 728 88.2 730.7"/><path d="M98.1 721Q98.7 728 97.4 736.8"/><path d="M104.5 721Q103.7 728 105.7 733.1"/><path d="M108.6 721Q109.0 728 109.1 736.6"/><path d="M115.9 721Q115.4 728 116.1 732.7"/><path d="M120.6 721Q120.8 728 118.2 737.8"/><path d="M129.0 721Q128.9 728 130.0 733.4"/><path d="M134.6 721Q134.1 728 137.9 733.8"/><path d="M139.7 721Q138.6 728 140.3 731.6"/><path d="M145.2 721Q147.0 728 142.9 730.5"/><path d="M153.5 721Q155.4 728 149.5 739.1"/><path d="M157.6 721Q157.9 728 155.2 736.3"/></g>
<g fill="none" stroke="#c0a838" stroke-width="1.8" opacity="0.9"><path d="M85.4 722Q87.1 712 80.7 704.9"/><path d="M91.8 722Q93.5 712 96.2 707.0"/><path d="M98.1 722Q97.5 712 95.9 703.4"/><path d="M104.5 722Q107.1 712 103.3 708.0"/><path d="M108.6 722Q110.6 712 110.0 705.3"/><path d="M115.9 722Q112.7 712 112.5 706.9"/><path d="M120.6 722Q122.5 712 117.2 707.2"/><path d="M129.0 722Q127.5 712 133.2 706.2"/><path d="M134.6 722Q130.9 712 136.8 709.0"/><path d="M139.7 722Q137.9 712 144.8 709.1"/><path d="M145.2 722Q147.1 712 149.2 709.0"/><path d="M153.5 722Q150.2 712 148.6 708.2"/><path d="M157.6 722Q158.4 712 150.8 703.9"/></g>
<g fill="#5aa02e"><ellipse cx="79.0" cy="704.9" rx="4" ry="2.2" transform="rotate(-5 80.7 704.9)"/><ellipse cx="93.3" cy="707.0" rx="4" ry="2.2" transform="rotate(-13 96.2 707.0)"/><ellipse cx="93.1" cy="703.4" rx="4" ry="2.2" transform="rotate(10 95.9 703.4)"/><ellipse cx="101.2" cy="708.0" rx="4" ry="2.2" transform="rotate(-29 103.3 708.0)"/><ellipse cx="108.6" cy="705.3" rx="4" ry="2.2" transform="rotate(15 110.0 705.3)"/><ellipse cx="114.3" cy="706.9" rx="4" ry="2.2" transform="rotate(-7 112.5 706.9)"/><ellipse cx="119.6" cy="707.2" rx="4" ry="2.2" transform="rotate(25 117.2 707.2)"/><ellipse cx="135.6" cy="706.2" rx="4" ry="2.2" transform="rotate(-24 133.2 706.2)"/><ellipse cx="134.0" cy="709.0" rx="4" ry="2.2" transform="rotate(15 136.8 709.0)"/><ellipse cx="146.3" cy="709.1" rx="4" ry="2.2" transform="rotate(22 144.8 709.1)"/><ellipse cx="146.4" cy="709.0" rx="4" ry="2.2" transform="rotate(19 149.2 709.0)"/><ellipse cx="146.6" cy="708.2" rx="4" ry="2.2" transform="rotate(13 148.6 708.2)"/><ellipse cx="151.3" cy="703.9" rx="4" ry="2.2" transform="rotate(14 150.8 703.9)"/></g>
<g fill="#d88a28" opacity="0.8"><circle cx="97" cy="717" r="1.6"/><circle cx="133" cy="717" r="1.6"/><circle cx="118" cy="720" r="1.2"/></g>
<path d="M160 714 L172 716" stroke="#5cb83a" stroke-width="2.5"/>
<g fill="none" stroke="#d08a2a" stroke-width="2.6" stroke-linecap="round"><path d="M184.0 720.0Q186.0 715.0 189.0 718.0"/><path d="M186.5 724.5Q188.5 719.5 191.5 722.5"/><path d="M189.5 723.9Q191.5 718.9 194.5 721.9"/><path d="M192.2 721.9Q194.2 716.9 197.2 719.9"/><path d="M194.9 721.6Q196.9 716.6 199.9 719.6"/><path d="M197.7 722.9Q199.7 717.9 202.7 720.9"/><path d="M200.4 723.2Q202.4 718.2 205.4 721.2"/><path d="M203.6 720.1Q205.6 715.1 208.6 718.1"/><path d="M206.7 722.0Q208.7 717.0 211.7 720.0"/><path d="M210.5 721.2Q212.5 716.2 215.5 719.2"/><path d="M213.4 724.3Q215.4 719.3 218.4 722.3"/><path d="M217.2 723.2Q219.2 718.2 222.2 721.2"/><path d="M220.1 720.4Q222.1 715.4 225.1 718.4"/><path d="M223.0 719.8Q225.0 714.8 228.0 717.8"/><path d="M225.6 722.0Q227.6 717.0 230.6 720.0"/><path d="M228.7 722.3Q230.7 717.3 233.7 720.3"/><path d="M231.7 719.6Q233.7 714.6 236.7 717.6"/><path d="M235.2 722.8Q237.2 717.8 240.2 720.8"/><path d="M238.6 722.2Q240.6 717.2 243.6 720.2"/><path d="M242.1 724.4Q244.1 719.4 247.1 722.4"/><path d="M245.9 723.1Q247.9 718.1 250.9 721.1"/><path d="M248.0 719.2Q250.0 714.2 253.0 717.2"/><path d="M251.1 725.7Q253.1 720.7 256.1 723.7"/><path d="M254.2 719.9Q256.2 714.9 259.2 717.9"/><path d="M257.3 717.4Q259.3 712.4 262.3 715.4"/><path d="M261.3 716.1Q263.3 711.1 266.3 714.1"/><path d="M264.7 725.3Q266.7 720.3 269.7 723.3"/><path d="M267.6 722.1Q269.6 717.1 272.6 720.1"/><path d="M270.7 718.4Q272.7 713.4 275.7 716.4"/><path d="M273.5 717.2Q275.5 712.2 278.5 715.2"/><path d="M277.2 723.8Q279.2 718.8 282.2 721.8"/><path d="M281.1 716.5Q283.1 711.5 286.1 714.5"/><path d="M284.6 719.2Q286.6 714.2 289.6 717.2"/><path d="M288.1 721.5Q290.1 716.5 293.1 719.5"/><path d="M291.1 725.7Q293.1 720.7 296.1 723.7"/><path d="M293.6 723.5Q295.6 718.5 298.6 721.5"/><path d="M297.4 721.1Q299.4 716.1 302.4 719.1"/><path d="M300.8 725.9Q302.8 720.9 305.8 723.9"/><path d="M303.6 722.3Q305.6 717.3 308.6 720.3"/><path d="M307.2 719.8Q309.2 714.8 312.2 717.8"/><path d="M310.8 719.9Q312.8 714.9 315.8 717.9"/><path d="M314.1 722.1Q316.1 717.1 319.1 720.1"/><path d="M317.6 719.2Q319.6 714.2 322.6 717.2"/><path d="M321.0 721.4Q323.0 716.4 326.0 719.4"/><path d="M323.9 722.1Q325.9 717.1 328.9 720.1"/></g>
<g fill="none" stroke="#e8c060" stroke-width="1" opacity="0.8"><path d="M184.0 720.0Q186.0 715.0 189.0 718.0"/><path d="M192.2 721.9Q194.2 716.9 197.2 719.9"/><path d="M200.4 723.2Q202.4 718.2 205.4 721.2"/><path d="M210.5 721.2Q212.5 716.2 215.5 719.2"/><path d="M220.1 720.4Q222.1 715.4 225.1 718.4"/><path d="M228.7 722.3Q230.7 717.3 233.7 720.3"/><path d="M238.6 722.2Q240.6 717.2 243.6 720.2"/><path d="M248.0 719.2Q250.0 714.2 253.0 717.2"/><path d="M257.3 717.4Q259.3 712.4 262.3 715.4"/><path d="M267.6 722.1Q269.6 717.1 272.6 720.1"/><path d="M277.2 723.8Q279.2 718.8 282.2 721.8"/><path d="M288.1 721.5Q290.1 716.5 293.1 719.5"/><path d="M297.4 721.1Q299.4 716.1 302.4 719.1"/><path d="M307.2 719.8Q309.2 714.8 312.2 717.8"/><path d="M317.6 719.2Q319.6 714.2 322.6 717.2"/></g>
<g fill="none" stroke="#d8d0d8" stroke-width="1.2" opacity="0.75"><path d="M224.5 724Q222 750 224 772"/><path d="M258 726Q255 740 253 755"/><path d="M292 725Q300 740 305 755"/><path d="M300 728Q298 735 296 741"/><path d="M205 722L208 732"/><path d="M190 722L194 730"/><path d="M310 724L318 732"/></g>
<g fill="none" stroke="#9ccc44" stroke-width="1.6"><path d="M262 718L270 704"/><path d="M290 716L296 708"/></g>
<ellipse cx="180.5" cy="708.5" rx="3" ry="1.5" fill="#ddd"/><circle cx="243" cy="716" r="2.5" fill="#6ec83a"/>
</g>
<g clip-path="url(#cF1)" filter="url(#soft)">
<rect x="76.5" y="864.5" width="253.7" height="99.2" fill="url(#ftop)"/>
<path d="M80 900 Q200 896 330 902" stroke="#2c2c2c" stroke-width="1" fill="none" opacity="0.6"/>
<g fill="none" stroke="#a09282" stroke-width="1.9"><path d="M92.4 883.3L92.7 895.6L91.7 908.0L91.8 920.3L91.2 932.7L90.8 945.0L90.1 957.4"/><path d="M120.3 882.0L119.7 892.2L120.7 902.3L120.1 912.5L120.3 922.7L120.6 932.8L120.6 943.0"/><path d="M145.4 882.0L144.4 893.4L143.5 904.9L143.2 916.3L143.3 927.7L142.2 939.2L141.4 950.6"/><path d="M174.3 881.0L177.3 892.6L178.9 904.2L182.3 915.8L184.4 927.4L187.2 939.0L189.3 950.6"/><path d="M202.0 882.0L203.2 894.6L205.7 907.3L206.6 920.0L208.4 932.6L209.9 945.2L212.5 957.9"/><path d="M227.4 881.7L229.0 894.1L230.4 906.5L232.9 918.9L234.6 931.2L237.0 943.6L238.2 956.0"/><path d="M258.7 881.0L259.4 893.2L261.9 905.3L262.7 917.5L263.4 929.7L265.0 941.8L265.7 954.0"/><path d="M280.0 884.6L281.7 896.5L285.1 908.4L287.4 920.3L289.9 932.2L293.0 944.1L294.9 956.0"/><path d="M307.6 879.7L309.6 893.1L310.7 906.4L311.8 919.8L314.5 933.1L315.9 946.4L317.9 959.8"/></g>
<g fill="#b0a8a0" opacity="0.5"><circle cx="91.9" cy="898.2" r="1"/><circle cx="91.0" cy="938.1" r="1"/><circle cx="91.5" cy="917.9" r="1"/><circle cx="120.1" cy="924.4" r="1"/><circle cx="120.2" cy="889.6" r="1"/><circle cx="120.2" cy="903.9" r="1"/><circle cx="144.6" cy="893.0" r="1"/><circle cx="143.8" cy="907.6" r="1"/><circle cx="142.3" cy="935.9" r="1"/><circle cx="180.3" cy="905.8" r="1"/><circle cx="180.0" cy="904.3" r="1"/><circle cx="180.4" cy="906.3" r="1"/><circle cx="204.1" cy="894.7" r="1"/><circle cx="207.6" cy="923.0" r="1"/><circle cx="209.1" cy="934.6" r="1"/><circle cx="232.0" cy="910.2" r="1"/><circle cx="233.7" cy="922.4" r="1"/><circle cx="234.9" cy="930.7" r="1"/><circle cx="260.1" cy="892.1" r="1"/><circle cx="263.4" cy="926.4" r="1"/><circle cx="261.6" cy="907.5" r="1"/><circle cx="286.9" cy="915.1" r="1"/><circle cx="290.9" cy="935.5" r="1"/><circle cx="286.5" cy="913.5" r="1"/><circle cx="314.0" cy="930.4" r="1"/><circle cx="309.8" cy="894.8" r="1"/><circle cx="310.5" cy="900.4" r="1"/></g>
<g fill="#a8e03a"><path d="M92.4 879.3L101.4 878.9" stroke="#8cc83a" stroke-width="1.4"/><ellipse cx="101.4" cy="878.9" rx="7.2" ry="3.8" transform="rotate(-4 101.4 878.9)"/><path d="M92.4 879.3L83.4 878.8" stroke="#8cc83a" stroke-width="1.4"/><ellipse cx="83.4" cy="878.8" rx="7.2" ry="3.8" transform="rotate(186 83.4 878.8)"/><path d="M92.4 879.3L94.5 875.6" stroke="#8cc83a" stroke-width="1.4"/><ellipse cx="94.5" cy="875.6" rx="5" ry="3.2" transform="rotate(-71 94.5 875.6)"/><path d="M92.4 879.3L97.9 881.4" stroke="#8cc83a" stroke-width="1.4"/><ellipse cx="97.9" cy="881.4" rx="5" ry="3.4" transform="rotate(32 97.9 881.4)"/><path d="M120.3 878.0L129.3 878.5" stroke="#8cc83a" stroke-width="1.4"/><ellipse cx="129.3" cy="878.5" rx="7.2" ry="3.8" transform="rotate(5 129.3 878.5)"/><path d="M120.3 878.0L111.6 876.6" stroke="#8cc83a" stroke-width="1.4"/><ellipse cx="111.6" cy="876.6" rx="7.2" ry="3.8" transform="rotate(195 111.6 876.6)"/><path d="M120.3 878.0L117.8 874.4" stroke="#8cc83a" stroke-width="1.4"/><ellipse cx="117.8" cy="874.4" rx="5" ry="3.2" transform="rotate(-113 117.8 874.4)"/><path d="M120.3 878.0L126.1 879.8" stroke="#8cc83a" stroke-width="1.4"/><ellipse cx="126.1" cy="879.8" rx="5" ry="3.4" transform="rotate(28 126.1 879.8)"/><path d="M145.4 878.0L154.4 878.1" stroke="#8cc83a" stroke-width="1.4"/><ellipse cx="154.4" cy="878.1" rx="7.2" ry="3.8" transform="rotate(1 154.4 878.1)"/><path d="M145.4 878.0L136.4 877.7" stroke="#8cc83a" stroke-width="1.4"/><ellipse cx="136.4" cy="877.7" rx="7.2" ry="3.8" transform="rotate(183 136.4 877.7)"/><path d="M145.4 878.0L145.3 874.1" stroke="#8cc83a" stroke-width="1.4"/><ellipse cx="145.3" cy="874.1" rx="5" ry="3.2" transform="rotate(-91 145.3 874.1)"/><path d="M145.4 878.0L148.7 881.4" stroke="#8cc83a" stroke-width="1.4"/><ellipse cx="148.7" cy="881.4" rx="5" ry="3.4" transform="rotate(60 148.7 881.4)"/><path d="M174.3 877.0L182.8 875.2" stroke="#8cc83a" stroke-width="1.4"/><ellipse cx="182.8" cy="875.2" rx="7.2" ry="3.8" transform="rotate(-19 182.8 875.2)"/><path d="M174.3 877.0L165.3 877.4" stroke="#8cc83a" stroke-width="1.4"/><ellipse cx="165.3" cy="877.4" rx="7.2" ry="3.8" transform="rotate(176 165.3 877.4)"/><path d="M174.3 877.0L174.8 873.1" stroke="#8cc83a" stroke-width="1.4"/><ellipse cx="174.8" cy="873.1" rx="5" ry="3.2" transform="rotate(-86 174.8 873.1)"/><path d="M174.3 877.0L180.3 878.5" stroke="#8cc83a" stroke-width="1.4"/><ellipse cx="180.3" cy="878.5" rx="5" ry="3.4" transform="rotate(23 180.3 878.5)"/><path d="M202.0 878.0L210.7 876.7" stroke="#8cc83a" stroke-width="1.4"/><ellipse cx="210.7" cy="876.7" rx="7.2" ry="3.8" transform="rotate(-14 210.7 876.7)"/><path d="M202.0 878.0L193.0 877.7" stroke="#8cc83a" stroke-width="1.4"/><ellipse cx="193.0" cy="877.7" rx="7.2" ry="3.8" transform="rotate(183 193.0 877.7)"/><path d="M202.0 878.0L204.0 874.3" stroke="#8cc83a" stroke-width="1.4"/><ellipse cx="204.0" cy="874.3" rx="5" ry="3.2" transform="rotate(-72 204.0 874.3)"/><path d="M202.0 878.0L206.1 881.0" stroke="#8cc83a" stroke-width="1.4"/><ellipse cx="206.1" cy="881.0" rx="5" ry="3.4" transform="rotate(51 206.1 881.0)"/><path d="M227.4 877.7L236.3 876.8" stroke="#8cc83a" stroke-width="1.4"/><ellipse cx="236.3" cy="876.8" rx="7.2" ry="3.8" transform="rotate(-9 236.3 876.8)"/><path d="M227.4 877.7L218.4 877.6" stroke="#8cc83a" stroke-width="1.4"/><ellipse cx="218.4" cy="877.6" rx="7.2" ry="3.8" transform="rotate(182 218.4 877.6)"/><path d="M227.4 877.7L227.9 873.8" stroke="#8cc83a" stroke-width="1.4"/><ellipse cx="227.9" cy="873.8" rx="5" ry="3.2" transform="rotate(-85 227.9 873.8)"/><path d="M227.4 877.7L230.0 881.3" stroke="#8cc83a" stroke-width="1.4"/><ellipse cx="230.0" cy="881.3" rx="5" ry="3.4" transform="rotate(66 230.0 881.3)"/><path d="M258.7 877.0L267.7 876.6" stroke="#8cc83a" stroke-width="1.4"/><ellipse cx="267.7" cy="876.6" rx="7.2" ry="3.8" transform="rotate(-4 267.7 876.6)"/><path d="M258.7 877.0L249.7 876.5" stroke="#8cc83a" stroke-width="1.4"/><ellipse cx="249.7" cy="876.5" rx="7.2" ry="3.8" transform="rotate(185 249.7 876.5)"/><path d="M258.7 877.0L261.4 873.4" stroke="#8cc83a" stroke-width="1.4"/><ellipse cx="261.4" cy="873.4" rx="5" ry="3.2" transform="rotate(-66 261.4 873.4)"/><path d="M258.7 877.0L262.2 880.3" stroke="#8cc83a" stroke-width="1.4"/><ellipse cx="262.2" cy="880.3" rx="5" ry="3.4" transform="rotate(58 262.2 880.3)"/><path d="M280.0 880.6L289.0 880.1" stroke="#8cc83a" stroke-width="1.4"/><ellipse cx="289.0" cy="880.1" rx="7.2" ry="3.8" transform="rotate(-5 289.0 880.1)"/><path d="M280.0 880.6L271.0 880.1" stroke="#8cc83a" stroke-width="1.4"/><ellipse cx="271.0" cy="880.1" rx="7.2" ry="3.8" transform="rotate(185 271.0 880.1)"/><path d="M280.0 880.6L282.2 876.9" stroke="#8cc83a" stroke-width="1.4"/><ellipse cx="282.2" cy="876.9" rx="5" ry="3.2" transform="rotate(-71 282.2 876.9)"/><path d="M280.0 880.6L283.9 883.7" stroke="#8cc83a" stroke-width="1.4"/><ellipse cx="283.9" cy="883.7" rx="5" ry="3.4" transform="rotate(54 283.9 883.7)"/><path d="M307.6 875.7L316.2 874.1" stroke="#8cc83a" stroke-width="1.4"/><ellipse cx="316.2" cy="874.1" rx="7.2" ry="3.8" transform="rotate(-18 316.2 874.1)"/><path d="M307.6 875.7L298.9 874.3" stroke="#8cc83a" stroke-width="1.4"/><ellipse cx="298.9" cy="874.3" rx="7.2" ry="3.8" transform="rotate(195 298.9 874.3)"/><path d="M307.6 875.7L305.0 872.1" stroke="#8cc83a" stroke-width="1.4"/><ellipse cx="305.0" cy="872.1" rx="5" ry="3.2" transform="rotate(-114 305.0 872.1)"/><path d="M307.6 875.7L313.5 877.3" stroke="#8cc83a" stroke-width="1.4"/><ellipse cx="313.5" cy="877.3" rx="5" ry="3.4" transform="rotate(24 313.5 877.3)"/></g>
</g>
<g clip-path="url(#cF2)" filter="url(#soft)">
<rect x="76.5" y="970.4" width="253.7" height="100" fill="#050404"/>
<rect x="76.5" y="1010" width="180" height="60.4" fill="url(#fbrown)"/>
<g fill="none" stroke="#a89274" stroke-width="1.7" stroke-linejoin="round"><path d="M97.5 995.6L98.6 1000.9L97.5 1007.2L94.8 1013.5L97.7 1019.9L97.7 1026.2L96.4 1032.5"/><path d="M129.9 993.7L126.7 998.9L128.9 1005.0L126.6 1011.2L126.4 1017.4L127.5 1023.5L125.6 1029.7"/><path d="M152.6 994.0L154.8 999.4L151.5 1005.9L152.7 1012.3L154.0 1018.7L151.7 1025.2L156.9 1031.6"/><path d="M189.7 998.5L188.1 1002.2L187.6 1006.9L187.4 1011.6L186.7 1016.4L189.2 1021.1L187.3 1025.8"/><path d="M208.3 998.7L207.5 1002.4L206.1 1007.0L203.4 1011.7L203.8 1016.4L205.7 1021.0L204.5 1025.7"/><path d="M230.8 998.0L232.6 1001.1L229.6 1005.3L229.4 1009.4L228.7 1013.5L231.1 1017.7L230.4 1021.8"/><path d="M265.1 998.4L265.7 1001.3L266.6 1005.2L267.9 1009.1L267.7 1013.0L270.7 1016.9L268.5 1020.8"/><path d="M287.6 998.0L290.1 999.8L288.6 1002.7L286.5 1005.5L288.3 1008.3L289.8 1011.2L289.5 1014.0"/><path d="M314.4 1000.3L313.7 1002.2L311.4 1005.2L310.1 1008.1L311.6 1011.1L308.0 1014.0L309.1 1017.0"/></g>
<g fill="none" stroke="#94cc3c" stroke-width="2.2" stroke-linecap="round"><path d="M84.7 994.6Q97.5 991.6 110.3 994.6"/><path d="M121.3 992.7Q129.9 989.7 138.6 992.7"/><path d="M141.5 993.0Q152.6 990.0 163.7 993.0"/><path d="M174.3 997.5Q189.7 994.5 205.0 997.5"/><path d="M200.0 997.7Q208.3 994.7 216.6 997.7"/><path d="M220.5 997.0Q230.8 994.0 241.0 997.0"/><path d="M254.8 997.4Q265.1 994.4 275.3 997.4"/><path d="M277.3 997.0Q287.6 994.0 297.8 997.0"/><path d="M302.7 999.3Q314.4 996.3 326.2 999.3"/></g>
</g>
<line x1="491.5" y1="71" x2="491.5" y2="156.5" stroke="#e8e8e8" stroke-width="1" stroke-dasharray="1.5 1" opacity="0.9"/>
<line x1="579.7" y1="71" x2="579.7" y2="156.5" stroke="#e8e8e8" stroke-width="1" stroke-dasharray="1.5 1" opacity="0.9"/>
<line x1="491.5" y1="161.5" x2="491.5" y2="248.5" stroke="#e8e8e8" stroke-width="1" stroke-dasharray="1.5 1" opacity="0.9"/>
<line x1="579.7" y1="161.5" x2="579.7" y2="248.5" stroke="#e8e8e8" stroke-width="1" stroke-dasharray="1.5 1" opacity="0.9"/>
<line x1="161.3" y1="589.7" x2="161.3" y2="689.8" stroke="#e8e8e8" stroke-width="1" stroke-dasharray="1.5 1" opacity="0.9"/>
<line x1="245.2" y1="589.7" x2="245.2" y2="689.8" stroke="#e8e8e8" stroke-width="1" stroke-dasharray="1.5 1" opacity="0.9"/>
<line x1="161.3" y1="694.4" x2="161.3" y2="794.8" stroke="#e8e8e8" stroke-width="1" stroke-dasharray="1.5 1" opacity="0.9"/>
<line x1="245.2" y1="694.4" x2="245.2" y2="794.8" stroke="#e8e8e8" stroke-width="1" stroke-dasharray="1.5 1" opacity="0.9"/>
<line x1="164.3" y1="864.5" x2="164.3" y2="963.7" stroke="#e8e8e8" stroke-width="1" stroke-dasharray="1.5 1" opacity="0.9"/>
<line x1="246.1" y1="864.5" x2="246.1" y2="963.7" stroke="#e8e8e8" stroke-width="1" stroke-dasharray="1.5 1" opacity="0.9"/>
<line x1="164.3" y1="970.4" x2="164.3" y2="1070.4" stroke="#e8e8e8" stroke-width="1" stroke-dasharray="1.5 1" opacity="0.9"/>
<line x1="246.1" y1="970.4" x2="246.1" y2="1070.4" stroke="#e8e8e8" stroke-width="1" stroke-dasharray="1.5 1" opacity="0.9"/>
</svg>
</body></html>
